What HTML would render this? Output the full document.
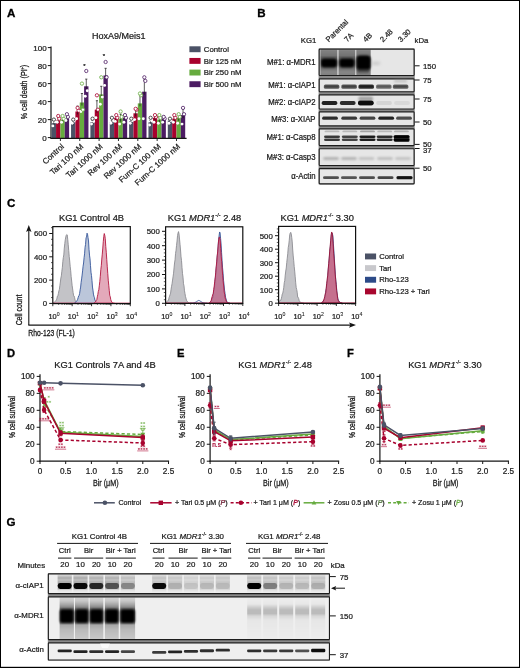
<!DOCTYPE html><html><head><meta charset="utf-8"><style>html,body{margin:0;padding:0;background:#fff;}svg{display:block;font-family:"Liberation Sans", sans-serif;will-change:transform;}</style></head><body>
<svg width="520" height="668" viewBox="0 0 520 668">
<defs>
<filter id="b06" x="-50%" y="-50%" width="200%" height="200%"><feGaussianBlur stdDeviation="0.60"/></filter>
<filter id="b08" x="-50%" y="-50%" width="200%" height="200%"><feGaussianBlur stdDeviation="0.80"/></filter>
<filter id="b1" x="-50%" y="-50%" width="200%" height="200%"><feGaussianBlur stdDeviation="1.00"/></filter>
<filter id="b15" x="-50%" y="-50%" width="200%" height="200%"><feGaussianBlur stdDeviation="1.50"/></filter>
<filter id="b2" x="-50%" y="-50%" width="200%" height="200%"><feGaussianBlur stdDeviation="2.00"/></filter>
<filter id="b3" x="-50%" y="-50%" width="200%" height="200%"><feGaussianBlur stdDeviation="3.00"/></filter>
<filter id="bh" x="-50%" y="-50%" width="200%" height="200%"><feGaussianBlur stdDeviation="0.7 0.4"/></filter>
<linearGradient id="gMDR" x1="0" y1="0" x2="0" y2="1"><stop offset="0" stop-color="#6a6a6a"/><stop offset="0.3" stop-color="#3a3a3a"/><stop offset="0.7" stop-color="#555"/><stop offset="1" stop-color="#8a8a8a"/></linearGradient>
<clipPath id="cB0"><rect x="319.8" y="49.70" width="93.7" height="25.20"/></clipPath>
<clipPath id="cB1"><rect x="319.8" y="79.40" width="93.7" height="11.70"/></clipPath>
<clipPath id="cB2"><rect x="319.8" y="95.40" width="93.7" height="13.00"/></clipPath>
<clipPath id="cB3"><rect x="319.8" y="112.40" width="93.7" height="12.90"/></clipPath>
<clipPath id="cB4"><rect x="319.8" y="129.40" width="93.7" height="15.60"/></clipPath>
<clipPath id="cB5"><rect x="319.8" y="149.30" width="93.7" height="15.60"/></clipPath>
<clipPath id="cB6"><rect x="319.8" y="169.20" width="93.7" height="14.00"/></clipPath>
</defs>
<rect x="0.00" y="0.00" width="520.00" height="668.00" fill="#fff" stroke="none" stroke-width="1.00" />
<text x="7.10" y="16.60" font-size="11.60" text-anchor="start" fill="#000" font-weight="bold" stroke="#000" stroke-width="0.3">A</text>
<text x="118.70" y="39.30" font-size="9.00" text-anchor="middle" fill="#1a1a1a" stroke="#1a1a1a" stroke-width="0.22">HoxA9/Meis1</text>
<line x1="51.00" y1="46.60" x2="51.00" y2="138.60" stroke="#151515" stroke-width="1.20" />
<line x1="47.80" y1="137.60" x2="51.00" y2="137.60" stroke="#151515" stroke-width="1.00" />
<text x="46.60" y="140.50" font-size="8.00" text-anchor="end" fill="#1a1a1a" stroke="#1a1a1a" stroke-width="0.22">0</text>
<line x1="47.80" y1="119.60" x2="51.00" y2="119.60" stroke="#151515" stroke-width="1.00" />
<text x="46.60" y="122.50" font-size="8.00" text-anchor="end" fill="#1a1a1a" stroke="#1a1a1a" stroke-width="0.22">20</text>
<line x1="47.80" y1="101.60" x2="51.00" y2="101.60" stroke="#151515" stroke-width="1.00" />
<text x="46.60" y="104.50" font-size="8.00" text-anchor="end" fill="#1a1a1a" stroke="#1a1a1a" stroke-width="0.22">40</text>
<line x1="47.80" y1="83.60" x2="51.00" y2="83.60" stroke="#151515" stroke-width="1.00" />
<text x="46.60" y="86.50" font-size="8.00" text-anchor="end" fill="#1a1a1a" stroke="#1a1a1a" stroke-width="0.22">60</text>
<line x1="47.80" y1="65.60" x2="51.00" y2="65.60" stroke="#151515" stroke-width="1.00" />
<text x="46.60" y="68.50" font-size="8.00" text-anchor="end" fill="#1a1a1a" stroke="#1a1a1a" stroke-width="0.22">80</text>
<line x1="47.80" y1="47.60" x2="51.00" y2="47.60" stroke="#151515" stroke-width="1.00" />
<text x="46.60" y="50.50" font-size="8.00" text-anchor="end" fill="#1a1a1a" stroke="#1a1a1a" stroke-width="0.22">100</text>
<text x="0.00" y="0.00" font-size="9.40" text-anchor="middle" fill="#1a1a1a" stroke="#1a1a1a" stroke-width="0.29" transform="translate(26.60 92.00) rotate(-90.00) scale(0.760 1)">% cell death (PI<tspan font-size="5" dy="-3">+</tspan><tspan dy="3">)</tspan></text>
<rect x="51.70" y="123.20" width="4.35" height="14.80" fill="#4b5266" stroke="none" stroke-width="1.00" />
<rect x="56.05" y="120.50" width="4.35" height="17.50" fill="#a8022e" stroke="none" stroke-width="1.00" />
<rect x="60.40" y="119.60" width="4.35" height="18.40" fill="#66ab3e" stroke="none" stroke-width="1.00" />
<rect x="64.75" y="118.70" width="4.35" height="19.30" fill="#4c1c63" stroke="none" stroke-width="1.00" />
<line x1="53.88" y1="120.50" x2="53.88" y2="126.20" stroke="#151515" stroke-width="0.70" />
<line x1="52.77" y1="120.50" x2="54.98" y2="120.50" stroke="#151515" stroke-width="0.70" />
<line x1="58.23" y1="116.90" x2="58.23" y2="123.50" stroke="#151515" stroke-width="0.70" />
<line x1="57.12" y1="116.90" x2="59.33" y2="116.90" stroke="#151515" stroke-width="0.70" />
<line x1="62.58" y1="116.90" x2="62.58" y2="122.60" stroke="#151515" stroke-width="0.70" />
<line x1="61.48" y1="116.90" x2="63.68" y2="116.90" stroke="#151515" stroke-width="0.70" />
<line x1="66.92" y1="116.00" x2="66.92" y2="121.70" stroke="#151515" stroke-width="0.70" />
<line x1="65.83" y1="116.00" x2="68.02" y2="116.00" stroke="#151515" stroke-width="0.70" />
<circle cx="52.88" cy="125.90" r="1.45" fill="#fff" stroke="none" stroke-width="1.00" />
<circle cx="54.88" cy="121.40" r="1.45" fill="#fff" stroke="none" stroke-width="1.00" />
<circle cx="53.88" cy="119.60" r="1.65" fill="#fff" stroke="#222" stroke-width="0.80" />
<circle cx="57.23" cy="122.30" r="1.45" fill="#fff" stroke="none" stroke-width="1.00" />
<circle cx="59.23" cy="118.70" r="1.65" fill="#fff" stroke="#a8022e" stroke-width="0.80" />
<circle cx="58.23" cy="116.00" r="1.65" fill="#fff" stroke="#a8022e" stroke-width="0.80" />
<circle cx="61.58" cy="122.30" r="1.45" fill="#fff" stroke="none" stroke-width="1.00" />
<circle cx="63.58" cy="118.70" r="1.65" fill="#fff" stroke="#66ab3e" stroke-width="0.80" />
<circle cx="62.58" cy="116.00" r="1.65" fill="#fff" stroke="#66ab3e" stroke-width="0.80" />
<circle cx="65.92" cy="120.50" r="1.45" fill="#fff" stroke="none" stroke-width="1.00" />
<circle cx="67.92" cy="116.90" r="1.65" fill="#fff" stroke="#4c1c63" stroke-width="0.80" />
<circle cx="66.92" cy="114.20" r="1.65" fill="#fff" stroke="#4c1c63" stroke-width="0.80" />
<rect x="71.05" y="122.30" width="4.35" height="15.70" fill="#4b5266" stroke="none" stroke-width="1.00" />
<rect x="75.40" y="111.50" width="4.35" height="26.50" fill="#a8022e" stroke="none" stroke-width="1.00" />
<rect x="79.75" y="102.50" width="4.35" height="35.50" fill="#66ab3e" stroke="none" stroke-width="1.00" />
<rect x="84.10" y="86.30" width="4.35" height="51.70" fill="#4c1c63" stroke="none" stroke-width="1.00" />
<line x1="73.23" y1="120.50" x2="73.23" y2="125.30" stroke="#151515" stroke-width="0.70" />
<line x1="72.13" y1="120.50" x2="74.33" y2="120.50" stroke="#151515" stroke-width="0.70" />
<line x1="77.58" y1="106.10" x2="77.58" y2="114.50" stroke="#151515" stroke-width="0.70" />
<line x1="76.48" y1="106.10" x2="78.67" y2="106.10" stroke="#151515" stroke-width="0.70" />
<line x1="81.93" y1="93.50" x2="81.93" y2="105.50" stroke="#151515" stroke-width="0.70" />
<line x1="80.83" y1="93.50" x2="83.03" y2="93.50" stroke="#151515" stroke-width="0.70" />
<line x1="86.28" y1="79.10" x2="86.28" y2="89.30" stroke="#151515" stroke-width="0.70" />
<line x1="85.18" y1="79.10" x2="87.38" y2="79.10" stroke="#151515" stroke-width="0.70" />
<circle cx="72.23" cy="123.20" r="1.45" fill="#fff" stroke="none" stroke-width="1.00" />
<circle cx="74.23" cy="120.50" r="1.45" fill="#fff" stroke="none" stroke-width="1.00" />
<circle cx="73.23" cy="119.60" r="1.65" fill="#fff" stroke="#222" stroke-width="0.80" />
<circle cx="76.58" cy="118.70" r="1.45" fill="#fff" stroke="none" stroke-width="1.00" />
<circle cx="78.58" cy="110.60" r="1.65" fill="#fff" stroke="#a8022e" stroke-width="0.80" />
<circle cx="77.58" cy="107.90" r="1.65" fill="#fff" stroke="#a8022e" stroke-width="0.80" />
<circle cx="80.93" cy="111.50" r="1.45" fill="#fff" stroke="none" stroke-width="1.00" />
<circle cx="82.93" cy="109.70" r="1.65" fill="#fff" stroke="#66ab3e" stroke-width="0.80" />
<circle cx="81.93" cy="83.60" r="1.65" fill="#fff" stroke="#66ab3e" stroke-width="0.80" />
<circle cx="85.28" cy="96.20" r="1.45" fill="#fff" stroke="none" stroke-width="1.00" />
<circle cx="87.28" cy="90.80" r="1.45" fill="#fff" stroke="none" stroke-width="1.00" />
<circle cx="86.28" cy="71.00" r="1.65" fill="#fff" stroke="#4c1c63" stroke-width="0.80" />
<rect x="90.40" y="122.30" width="4.35" height="15.70" fill="#4b5266" stroke="none" stroke-width="1.00" />
<rect x="94.75" y="109.70" width="4.35" height="28.30" fill="#a8022e" stroke="none" stroke-width="1.00" />
<rect x="99.10" y="94.40" width="4.35" height="43.60" fill="#66ab3e" stroke="none" stroke-width="1.00" />
<rect x="103.45" y="75.50" width="4.35" height="62.50" fill="#4c1c63" stroke="none" stroke-width="1.00" />
<line x1="92.58" y1="120.50" x2="92.58" y2="125.30" stroke="#151515" stroke-width="0.70" />
<line x1="91.48" y1="120.50" x2="93.67" y2="120.50" stroke="#151515" stroke-width="0.70" />
<line x1="96.92" y1="100.70" x2="96.92" y2="112.70" stroke="#151515" stroke-width="0.70" />
<line x1="95.83" y1="100.70" x2="98.02" y2="100.70" stroke="#151515" stroke-width="0.70" />
<line x1="101.28" y1="86.30" x2="101.28" y2="97.40" stroke="#151515" stroke-width="0.70" />
<line x1="100.18" y1="86.30" x2="102.38" y2="86.30" stroke="#151515" stroke-width="0.70" />
<line x1="105.62" y1="68.30" x2="105.62" y2="78.50" stroke="#151515" stroke-width="0.70" />
<line x1="104.53" y1="68.30" x2="106.72" y2="68.30" stroke="#151515" stroke-width="0.70" />
<circle cx="91.58" cy="124.10" r="1.45" fill="#fff" stroke="none" stroke-width="1.00" />
<circle cx="93.58" cy="121.40" r="1.45" fill="#fff" stroke="none" stroke-width="1.00" />
<circle cx="92.58" cy="118.70" r="1.65" fill="#fff" stroke="#222" stroke-width="0.80" />
<circle cx="95.92" cy="117.80" r="1.45" fill="#fff" stroke="none" stroke-width="1.00" />
<circle cx="97.92" cy="109.70" r="1.65" fill="#fff" stroke="#a8022e" stroke-width="0.80" />
<circle cx="96.92" cy="95.30" r="1.65" fill="#fff" stroke="#a8022e" stroke-width="0.80" />
<circle cx="100.28" cy="104.30" r="1.45" fill="#fff" stroke="none" stroke-width="1.00" />
<circle cx="102.28" cy="97.10" r="1.45" fill="#fff" stroke="none" stroke-width="1.00" />
<circle cx="101.28" cy="77.30" r="1.65" fill="#fff" stroke="#66ab3e" stroke-width="0.80" />
<circle cx="104.62" cy="85.40" r="1.45" fill="#fff" stroke="none" stroke-width="1.00" />
<circle cx="106.62" cy="77.30" r="1.65" fill="#fff" stroke="#4c1c63" stroke-width="0.80" />
<circle cx="105.62" cy="62.00" r="1.65" fill="#fff" stroke="#4c1c63" stroke-width="0.80" />
<rect x="109.75" y="122.30" width="4.35" height="15.70" fill="#4b5266" stroke="none" stroke-width="1.00" />
<rect x="114.10" y="117.80" width="4.35" height="20.20" fill="#a8022e" stroke="none" stroke-width="1.00" />
<rect x="118.45" y="118.70" width="4.35" height="19.30" fill="#66ab3e" stroke="none" stroke-width="1.00" />
<rect x="122.80" y="117.80" width="4.35" height="20.20" fill="#4c1c63" stroke="none" stroke-width="1.00" />
<line x1="111.92" y1="120.50" x2="111.92" y2="125.30" stroke="#151515" stroke-width="0.70" />
<line x1="110.83" y1="120.50" x2="113.02" y2="120.50" stroke="#151515" stroke-width="0.70" />
<line x1="116.27" y1="115.10" x2="116.27" y2="120.80" stroke="#151515" stroke-width="0.70" />
<line x1="115.17" y1="115.10" x2="117.37" y2="115.10" stroke="#151515" stroke-width="0.70" />
<line x1="120.62" y1="114.20" x2="120.62" y2="121.70" stroke="#151515" stroke-width="0.70" />
<line x1="119.53" y1="114.20" x2="121.72" y2="114.20" stroke="#151515" stroke-width="0.70" />
<line x1="124.97" y1="114.20" x2="124.97" y2="120.80" stroke="#151515" stroke-width="0.70" />
<line x1="123.88" y1="114.20" x2="126.07" y2="114.20" stroke="#151515" stroke-width="0.70" />
<circle cx="110.92" cy="123.20" r="1.45" fill="#fff" stroke="none" stroke-width="1.00" />
<circle cx="112.92" cy="119.60" r="1.45" fill="#fff" stroke="none" stroke-width="1.00" />
<circle cx="111.92" cy="117.80" r="1.65" fill="#fff" stroke="#222" stroke-width="0.80" />
<circle cx="115.27" cy="121.40" r="1.45" fill="#fff" stroke="none" stroke-width="1.00" />
<circle cx="117.27" cy="117.80" r="1.65" fill="#fff" stroke="#a8022e" stroke-width="0.80" />
<circle cx="116.27" cy="115.10" r="1.65" fill="#fff" stroke="#a8022e" stroke-width="0.80" />
<circle cx="119.62" cy="124.10" r="1.45" fill="#fff" stroke="none" stroke-width="1.00" />
<circle cx="121.62" cy="116.90" r="1.65" fill="#fff" stroke="#66ab3e" stroke-width="0.80" />
<circle cx="120.62" cy="111.50" r="1.65" fill="#fff" stroke="#66ab3e" stroke-width="0.80" />
<circle cx="123.97" cy="122.30" r="1.45" fill="#fff" stroke="none" stroke-width="1.00" />
<circle cx="125.97" cy="117.80" r="1.65" fill="#fff" stroke="#4c1c63" stroke-width="0.80" />
<circle cx="124.97" cy="115.10" r="1.65" fill="#fff" stroke="#4c1c63" stroke-width="0.80" />
<rect x="129.10" y="121.40" width="4.35" height="16.60" fill="#4b5266" stroke="none" stroke-width="1.00" />
<rect x="133.45" y="113.30" width="4.35" height="24.70" fill="#a8022e" stroke="none" stroke-width="1.00" />
<rect x="137.80" y="103.40" width="4.35" height="34.60" fill="#66ab3e" stroke="none" stroke-width="1.00" />
<rect x="142.15" y="91.70" width="4.35" height="46.30" fill="#4c1c63" stroke="none" stroke-width="1.00" />
<line x1="131.28" y1="119.60" x2="131.28" y2="124.40" stroke="#151515" stroke-width="0.70" />
<line x1="130.18" y1="119.60" x2="132.38" y2="119.60" stroke="#151515" stroke-width="0.70" />
<line x1="135.63" y1="108.80" x2="135.63" y2="116.30" stroke="#151515" stroke-width="0.70" />
<line x1="134.53" y1="108.80" x2="136.73" y2="108.80" stroke="#151515" stroke-width="0.70" />
<line x1="139.98" y1="94.40" x2="139.98" y2="106.40" stroke="#151515" stroke-width="0.70" />
<line x1="138.88" y1="94.40" x2="141.08" y2="94.40" stroke="#151515" stroke-width="0.70" />
<line x1="144.33" y1="80.00" x2="144.33" y2="94.70" stroke="#151515" stroke-width="0.70" />
<line x1="143.23" y1="80.00" x2="145.43" y2="80.00" stroke="#151515" stroke-width="0.70" />
<circle cx="130.28" cy="123.20" r="1.45" fill="#fff" stroke="none" stroke-width="1.00" />
<circle cx="132.28" cy="120.50" r="1.45" fill="#fff" stroke="none" stroke-width="1.00" />
<circle cx="131.28" cy="118.70" r="1.65" fill="#fff" stroke="#222" stroke-width="0.80" />
<circle cx="134.63" cy="119.60" r="1.45" fill="#fff" stroke="none" stroke-width="1.00" />
<circle cx="136.63" cy="109.70" r="1.65" fill="#fff" stroke="#a8022e" stroke-width="0.80" />
<circle cx="135.63" cy="108.80" r="1.65" fill="#fff" stroke="#a8022e" stroke-width="0.80" />
<circle cx="138.98" cy="118.70" r="1.45" fill="#fff" stroke="none" stroke-width="1.00" />
<circle cx="140.98" cy="95.30" r="1.65" fill="#fff" stroke="#66ab3e" stroke-width="0.80" />
<circle cx="139.98" cy="93.50" r="1.65" fill="#fff" stroke="#66ab3e" stroke-width="0.80" />
<circle cx="143.33" cy="118.70" r="1.45" fill="#fff" stroke="none" stroke-width="1.00" />
<circle cx="145.33" cy="80.90" r="1.65" fill="#fff" stroke="#4c1c63" stroke-width="0.80" />
<circle cx="144.33" cy="77.30" r="1.65" fill="#fff" stroke="#4c1c63" stroke-width="0.80" />
<rect x="148.45" y="122.30" width="4.35" height="15.70" fill="#4b5266" stroke="none" stroke-width="1.00" />
<rect x="152.80" y="117.80" width="4.35" height="20.20" fill="#a8022e" stroke="none" stroke-width="1.00" />
<rect x="157.15" y="119.60" width="4.35" height="18.40" fill="#66ab3e" stroke="none" stroke-width="1.00" />
<rect x="161.50" y="118.70" width="4.35" height="19.30" fill="#4c1c63" stroke="none" stroke-width="1.00" />
<line x1="150.62" y1="120.50" x2="150.62" y2="125.30" stroke="#151515" stroke-width="0.70" />
<line x1="149.53" y1="120.50" x2="151.72" y2="120.50" stroke="#151515" stroke-width="0.70" />
<line x1="154.97" y1="115.10" x2="154.97" y2="120.80" stroke="#151515" stroke-width="0.70" />
<line x1="153.88" y1="115.10" x2="156.07" y2="115.10" stroke="#151515" stroke-width="0.70" />
<line x1="159.32" y1="116.90" x2="159.32" y2="122.60" stroke="#151515" stroke-width="0.70" />
<line x1="158.22" y1="116.90" x2="160.42" y2="116.90" stroke="#151515" stroke-width="0.70" />
<line x1="163.68" y1="116.00" x2="163.68" y2="121.70" stroke="#151515" stroke-width="0.70" />
<line x1="162.58" y1="116.00" x2="164.78" y2="116.00" stroke="#151515" stroke-width="0.70" />
<circle cx="149.62" cy="125.00" r="1.45" fill="#fff" stroke="none" stroke-width="1.00" />
<circle cx="151.62" cy="120.50" r="1.45" fill="#fff" stroke="none" stroke-width="1.00" />
<circle cx="150.62" cy="117.80" r="1.65" fill="#fff" stroke="#222" stroke-width="0.80" />
<circle cx="153.97" cy="122.30" r="1.45" fill="#fff" stroke="none" stroke-width="1.00" />
<circle cx="155.97" cy="116.90" r="1.65" fill="#fff" stroke="#a8022e" stroke-width="0.80" />
<circle cx="154.97" cy="115.10" r="1.65" fill="#fff" stroke="#a8022e" stroke-width="0.80" />
<circle cx="158.32" cy="123.20" r="1.45" fill="#fff" stroke="none" stroke-width="1.00" />
<circle cx="160.32" cy="117.80" r="1.65" fill="#fff" stroke="#66ab3e" stroke-width="0.80" />
<circle cx="159.32" cy="115.10" r="1.65" fill="#fff" stroke="#66ab3e" stroke-width="0.80" />
<circle cx="162.68" cy="122.30" r="1.45" fill="#fff" stroke="none" stroke-width="1.00" />
<circle cx="164.68" cy="118.70" r="1.65" fill="#fff" stroke="#4c1c63" stroke-width="0.80" />
<circle cx="163.68" cy="116.90" r="1.65" fill="#fff" stroke="#4c1c63" stroke-width="0.80" />
<rect x="167.80" y="120.50" width="4.35" height="17.50" fill="#4b5266" stroke="none" stroke-width="1.00" />
<rect x="172.15" y="118.70" width="4.35" height="19.30" fill="#a8022e" stroke="none" stroke-width="1.00" />
<rect x="176.50" y="117.80" width="4.35" height="20.20" fill="#66ab3e" stroke="none" stroke-width="1.00" />
<rect x="180.85" y="115.10" width="4.35" height="22.90" fill="#4c1c63" stroke="none" stroke-width="1.00" />
<line x1="169.98" y1="118.70" x2="169.98" y2="123.50" stroke="#151515" stroke-width="0.70" />
<line x1="168.88" y1="118.70" x2="171.08" y2="118.70" stroke="#151515" stroke-width="0.70" />
<line x1="174.33" y1="116.00" x2="174.33" y2="121.70" stroke="#151515" stroke-width="0.70" />
<line x1="173.23" y1="116.00" x2="175.43" y2="116.00" stroke="#151515" stroke-width="0.70" />
<line x1="178.68" y1="114.20" x2="178.68" y2="120.80" stroke="#151515" stroke-width="0.70" />
<line x1="177.58" y1="114.20" x2="179.78" y2="114.20" stroke="#151515" stroke-width="0.70" />
<line x1="183.03" y1="108.80" x2="183.03" y2="118.10" stroke="#151515" stroke-width="0.70" />
<line x1="181.93" y1="108.80" x2="184.13" y2="108.80" stroke="#151515" stroke-width="0.70" />
<circle cx="168.98" cy="123.20" r="1.45" fill="#fff" stroke="none" stroke-width="1.00" />
<circle cx="170.98" cy="120.50" r="1.45" fill="#fff" stroke="none" stroke-width="1.00" />
<circle cx="169.98" cy="118.70" r="1.65" fill="#fff" stroke="#222" stroke-width="0.80" />
<circle cx="173.33" cy="122.30" r="1.45" fill="#fff" stroke="none" stroke-width="1.00" />
<circle cx="175.33" cy="117.80" r="1.65" fill="#fff" stroke="#a8022e" stroke-width="0.80" />
<circle cx="174.33" cy="115.10" r="1.65" fill="#fff" stroke="#a8022e" stroke-width="0.80" />
<circle cx="177.68" cy="123.20" r="1.45" fill="#fff" stroke="none" stroke-width="1.00" />
<circle cx="179.68" cy="116.90" r="1.65" fill="#fff" stroke="#66ab3e" stroke-width="0.80" />
<circle cx="178.68" cy="114.20" r="1.65" fill="#fff" stroke="#66ab3e" stroke-width="0.80" />
<circle cx="182.03" cy="124.10" r="1.45" fill="#fff" stroke="none" stroke-width="1.00" />
<circle cx="184.03" cy="114.20" r="1.65" fill="#fff" stroke="#4c1c63" stroke-width="0.80" />
<circle cx="183.03" cy="107.90" r="1.65" fill="#fff" stroke="#4c1c63" stroke-width="0.80" />
<text x="84.40" y="67.60" font-size="6.00" text-anchor="middle" fill="#151515" stroke="#151515" stroke-width="0.22">*</text>
<text x="103.80" y="57.70" font-size="6.00" text-anchor="middle" fill="#151515" stroke="#151515" stroke-width="0.22">*</text>
<line x1="50.40" y1="138.30" x2="186.60" y2="138.30" stroke="#151515" stroke-width="1.20" />
<line x1="60.40" y1="138.30" x2="60.40" y2="141.00" stroke="#151515" stroke-width="0.90" />
<text x="0.00" y="0.00" font-size="8.00" text-anchor="end" fill="#1a1a1a" stroke="#1a1a1a" stroke-width="0.22" transform="translate(64.60 147.40) rotate(-42.00)">Control</text>
<line x1="79.75" y1="138.30" x2="79.75" y2="141.00" stroke="#151515" stroke-width="0.90" />
<text x="0.00" y="0.00" font-size="8.00" text-anchor="end" fill="#1a1a1a" stroke="#1a1a1a" stroke-width="0.22" transform="translate(83.95 147.40) rotate(-42.00)">Tari 100 nM</text>
<line x1="99.10" y1="138.30" x2="99.10" y2="141.00" stroke="#151515" stroke-width="0.90" />
<text x="0.00" y="0.00" font-size="8.00" text-anchor="end" fill="#1a1a1a" stroke="#1a1a1a" stroke-width="0.22" transform="translate(103.30 147.40) rotate(-42.00)">Tari 1000 nM</text>
<line x1="118.45" y1="138.30" x2="118.45" y2="141.00" stroke="#151515" stroke-width="0.90" />
<text x="0.00" y="0.00" font-size="8.00" text-anchor="end" fill="#1a1a1a" stroke="#1a1a1a" stroke-width="0.22" transform="translate(122.65 147.40) rotate(-42.00)">Rev 100 nM</text>
<line x1="137.80" y1="138.30" x2="137.80" y2="141.00" stroke="#151515" stroke-width="0.90" />
<text x="0.00" y="0.00" font-size="8.00" text-anchor="end" fill="#1a1a1a" stroke="#1a1a1a" stroke-width="0.22" transform="translate(142.00 147.40) rotate(-42.00)">Rev 1000 nM</text>
<line x1="157.15" y1="138.30" x2="157.15" y2="141.00" stroke="#151515" stroke-width="0.90" />
<text x="0.00" y="0.00" font-size="8.00" text-anchor="end" fill="#1a1a1a" stroke="#1a1a1a" stroke-width="0.22" transform="translate(161.35 147.40) rotate(-42.00)">Fum-C 100 nM</text>
<line x1="176.50" y1="138.30" x2="176.50" y2="141.00" stroke="#151515" stroke-width="0.90" />
<text x="0.00" y="0.00" font-size="8.00" text-anchor="end" fill="#1a1a1a" stroke="#1a1a1a" stroke-width="0.22" transform="translate(180.70 147.40) rotate(-42.00)">Fum-C 1000 nM</text>
<rect x="189.40" y="46.30" width="11.20" height="5.90" fill="#4b5266" stroke="none" stroke-width="1.00" />
<text x="203.80" y="51.90" font-size="7.80" text-anchor="start" fill="#1a1a1a" stroke="#1a1a1a" stroke-width="0.22">Control</text>
<rect x="189.40" y="57.95" width="11.20" height="5.90" fill="#a8022e" stroke="none" stroke-width="1.00" />
<text x="203.80" y="63.55" font-size="7.80" text-anchor="start" fill="#1a1a1a" stroke="#1a1a1a" stroke-width="0.22">Bir 125 nM</text>
<rect x="189.40" y="69.60" width="11.20" height="5.90" fill="#66ab3e" stroke="none" stroke-width="1.00" />
<text x="203.80" y="75.20" font-size="7.80" text-anchor="start" fill="#1a1a1a" stroke="#1a1a1a" stroke-width="0.22">Bir 250 nM</text>
<rect x="189.40" y="81.25" width="11.20" height="5.90" fill="#4c1c63" stroke="none" stroke-width="1.00" />
<text x="203.80" y="86.85" font-size="7.80" text-anchor="start" fill="#1a1a1a" stroke="#1a1a1a" stroke-width="0.22">Bir 500 nM</text>
<text x="257.30" y="16.90" font-size="11.60" text-anchor="start" fill="#000" font-weight="bold" stroke="#000" stroke-width="0.3">B</text>
<text x="316.30" y="43.30" font-size="7.80" text-anchor="end" fill="#1a1a1a" stroke="#1a1a1a" stroke-width="0.22">KG1</text>
<text x="0.00" y="0.00" font-size="7.60" text-anchor="start" fill="#1a1a1a" stroke="#1a1a1a" stroke-width="0.22" transform="translate(328.80 42.60) rotate(-45.00)">Parental</text>
<text x="0.00" y="0.00" font-size="7.60" text-anchor="start" fill="#1a1a1a" stroke="#1a1a1a" stroke-width="0.22" transform="translate(347.20 42.60) rotate(-45.00)">7A</text>
<text x="0.00" y="0.00" font-size="7.60" text-anchor="start" fill="#1a1a1a" stroke="#1a1a1a" stroke-width="0.22" transform="translate(365.90 42.60) rotate(-45.00)">4B</text>
<text x="0.00" y="0.00" font-size="7.60" text-anchor="start" fill="#1a1a1a" stroke="#1a1a1a" stroke-width="0.22" transform="translate(382.90 42.60) rotate(-45.00)">2.48</text>
<text x="0.00" y="0.00" font-size="7.60" text-anchor="start" fill="#1a1a1a" stroke="#1a1a1a" stroke-width="0.22" transform="translate(400.90 42.60) rotate(-45.00)">3.30</text>
<text x="414.60" y="43.10" font-size="7.80" text-anchor="start" fill="#1a1a1a" stroke="#1a1a1a" stroke-width="0.22">kDa</text>
<rect x="318.60" y="48.50" width="96.10" height="135.90" fill="#8a8a8a" stroke="none" stroke-width="1.00" />
<rect x="319.20" y="49.10" width="94.90" height="26.40" fill="#e6e6e6" stroke="#1c1c1c" stroke-width="1.15" rx="0.8"/>
<rect x="319.20" y="78.80" width="94.90" height="12.90" fill="#e6e6e6" stroke="#1c1c1c" stroke-width="1.15" rx="0.8"/>
<rect x="319.20" y="94.80" width="94.90" height="14.20" fill="#e6e6e6" stroke="#1c1c1c" stroke-width="1.15" rx="0.8"/>
<rect x="319.20" y="111.80" width="94.90" height="14.10" fill="#e6e6e6" stroke="#1c1c1c" stroke-width="1.15" rx="0.8"/>
<rect x="319.20" y="128.80" width="94.90" height="16.80" fill="#e6e6e6" stroke="#1c1c1c" stroke-width="1.15" rx="0.8"/>
<rect x="319.20" y="148.70" width="94.90" height="16.80" fill="#e6e6e6" stroke="#1c1c1c" stroke-width="1.15" rx="0.8"/>
<rect x="319.20" y="168.60" width="94.90" height="15.20" fill="#e6e6e6" stroke="#1c1c1c" stroke-width="1.15" rx="0.8"/>
<g clip-path="url(#cB0)">
<linearGradient id="sg1" gradientUnits="userSpaceOnUse" x1="0" y1="48.50" x2="0" y2="76.10"><stop offset="0.0000" stop-color="#000" stop-opacity="0.380"/><stop offset="0.1087" stop-color="#000" stop-opacity="0.450"/><stop offset="0.2536" stop-color="#000" stop-opacity="0.500"/><stop offset="0.3080" stop-color="#000" stop-opacity="0.580"/><stop offset="0.4891" stop-color="#000" stop-opacity="0.600"/><stop offset="0.7246" stop-color="#000" stop-opacity="0.500"/><stop offset="0.8514" stop-color="#000" stop-opacity="0.420"/><stop offset="1.0000" stop-color="#000" stop-opacity="0.450"/></linearGradient>
<rect x="319.20" y="46.50" width="18.20" height="31.60" fill="url(#sg1)" filter="url(#bh)"/>
<linearGradient id="sg2" gradientUnits="userSpaceOnUse" x1="0" y1="48.50" x2="0" y2="76.10"><stop offset="0.0000" stop-color="#000" stop-opacity="0.380"/><stop offset="0.1087" stop-color="#000" stop-opacity="0.450"/><stop offset="0.2536" stop-color="#000" stop-opacity="0.500"/><stop offset="0.3080" stop-color="#000" stop-opacity="0.580"/><stop offset="0.4891" stop-color="#000" stop-opacity="0.600"/><stop offset="0.7246" stop-color="#000" stop-opacity="0.500"/><stop offset="0.8514" stop-color="#000" stop-opacity="0.420"/><stop offset="1.0000" stop-color="#000" stop-opacity="0.450"/></linearGradient>
<rect x="338.50" y="46.50" width="16.80" height="31.60" fill="url(#sg2)" filter="url(#bh)"/>
<linearGradient id="sg3" gradientUnits="userSpaceOnUse" x1="0" y1="48.50" x2="0" y2="76.10"><stop offset="0.0000" stop-color="#000" stop-opacity="0.380"/><stop offset="0.1087" stop-color="#000" stop-opacity="0.450"/><stop offset="0.2536" stop-color="#000" stop-opacity="0.500"/><stop offset="0.3080" stop-color="#000" stop-opacity="0.580"/><stop offset="0.4891" stop-color="#000" stop-opacity="0.600"/><stop offset="0.7246" stop-color="#000" stop-opacity="0.500"/><stop offset="0.8514" stop-color="#000" stop-opacity="0.420"/><stop offset="1.0000" stop-color="#000" stop-opacity="0.450"/></linearGradient>
<rect x="356.30" y="46.50" width="14.40" height="31.60" fill="url(#sg3)" filter="url(#bh)"/>
<rect x="321.00" y="58.40" width="16.00" height="9.20" rx="3.00" fill="#000" opacity="1.00" filter="url(#b1)"/>
<rect x="339.40" y="58.40" width="15.00" height="9.20" rx="3.00" fill="#000" opacity="1.00" filter="url(#b1)"/>
<rect x="356.40" y="55.40" width="14.20" height="14.60" rx="4.00" fill="#000" opacity="1.00" filter="url(#b1)"/>
<rect x="357.00" y="68.00" width="12.50" height="5.00" rx="2.00" fill="#222" opacity="0.50" filter="url(#b1)"/>
<rect x="319.00" y="48.50" width="2.00" height="27.60" fill="#fff" stroke="none" stroke-width="0.00" opacity="0.3" filter="url(#b06)"/>
<ellipse cx="376.00" cy="63.20" rx="4.50" ry="1.75" fill="#999" opacity="0.35" filter="url(#b15)"/>
</g>
<rect x="323.85" y="84.40" width="15.50" height="4.40" rx="1.60" fill="#222" opacity="0.72" filter="url(#b06)"/>
<rect x="341.35" y="84.40" width="15.50" height="4.40" rx="1.60" fill="#222" opacity="0.72" filter="url(#b06)"/>
<rect x="358.45" y="84.40" width="15.50" height="4.40" rx="1.60" fill="#222" opacity="0.92" filter="url(#b06)"/>
<rect x="376.05" y="84.40" width="15.50" height="4.40" rx="1.60" fill="#222" opacity="0.60" filter="url(#b06)"/>
<rect x="392.85" y="84.40" width="15.50" height="4.40" rx="1.60" fill="#222" opacity="0.68" filter="url(#b06)"/>
<rect x="324.60" y="85.60" width="14.00" height="2.00" rx="1.60" fill="#000" opacity="0.25" filter="url(#b06)"/>
<rect x="342.10" y="85.60" width="14.00" height="2.00" rx="1.60" fill="#000" opacity="0.25" filter="url(#b06)"/>
<rect x="359.20" y="85.60" width="14.00" height="2.00" rx="1.60" fill="#000" opacity="0.40" filter="url(#b06)"/>
<rect x="376.80" y="85.60" width="14.00" height="2.00" rx="1.60" fill="#000" opacity="0.20" filter="url(#b06)"/>
<rect x="393.60" y="85.60" width="14.00" height="2.00" rx="1.60" fill="#000" opacity="0.25" filter="url(#b06)"/>
<rect x="394.00" y="79.50" width="13.00" height="3.00" rx="1.00" fill="#888" opacity="0.35" filter="url(#b1)"/>
<rect x="321.70" y="101.10" width="15.60" height="3.80" rx="1.60" fill="#111" opacity="0.90" filter="url(#b06)"/>
<rect x="339.90" y="101.10" width="15.60" height="3.80" rx="1.60" fill="#111" opacity="0.85" filter="url(#b06)"/>
<rect x="358.00" y="101.10" width="15.60" height="3.80" rx="1.60" fill="#111" opacity="1.00" filter="url(#b06)"/>
<rect x="376.20" y="101.10" width="15.60" height="3.80" rx="1.60" fill="#111" opacity="0.08" filter="url(#b06)"/>
<rect x="394.20" y="101.10" width="15.60" height="3.80" rx="1.60" fill="#111" opacity="0.06" filter="url(#b06)"/>
<rect x="358.50" y="96.50" width="14.50" height="4.50" rx="1.50" fill="#555" opacity="0.45" filter="url(#b1)"/>
<rect x="358.20" y="100.60" width="15.20" height="5.00" rx="2.00" fill="#111" opacity="0.90" filter="url(#b06)"/>
<rect x="322.10" y="116.55" width="15.80" height="3.30" rx="1.60" fill="#111" opacity="0.85" filter="url(#b06)"/>
<rect x="341.30" y="116.55" width="15.80" height="3.30" rx="1.60" fill="#111" opacity="0.80" filter="url(#b06)"/>
<rect x="359.60" y="116.55" width="15.80" height="3.30" rx="1.60" fill="#111" opacity="0.75" filter="url(#b06)"/>
<rect x="378.30" y="116.55" width="15.80" height="3.30" rx="1.60" fill="#111" opacity="0.90" filter="url(#b06)"/>
<rect x="396.10" y="116.55" width="15.80" height="3.30" rx="1.60" fill="#111" opacity="0.70" filter="url(#b06)"/>
<rect x="324.50" y="130.50" width="15.00" height="1.80" rx="1.60" fill="#555" opacity="0.30" filter="url(#b06)"/>
<rect x="342.30" y="130.50" width="15.00" height="1.80" rx="1.60" fill="#555" opacity="0.30" filter="url(#b06)"/>
<rect x="360.00" y="130.50" width="15.00" height="1.80" rx="1.60" fill="#555" opacity="0.45" filter="url(#b06)"/>
<rect x="377.20" y="130.50" width="15.00" height="1.80" rx="1.60" fill="#555" opacity="0.30" filter="url(#b06)"/>
<rect x="393.90" y="130.50" width="15.00" height="1.80" rx="1.60" fill="#555" opacity="0.35" filter="url(#b06)"/>
<rect x="324.00" y="135.60" width="16.00" height="2.40" rx="1.60" fill="#111" opacity="0.80" filter="url(#b06)"/>
<rect x="341.80" y="135.60" width="16.00" height="2.40" rx="1.60" fill="#111" opacity="0.75" filter="url(#b06)"/>
<rect x="359.50" y="135.60" width="16.00" height="2.40" rx="1.60" fill="#111" opacity="0.92" filter="url(#b06)"/>
<rect x="376.70" y="135.60" width="16.00" height="2.40" rx="1.60" fill="#111" opacity="0.85" filter="url(#b06)"/>
<rect x="393.40" y="135.60" width="16.00" height="2.40" rx="1.60" fill="#111" opacity="1.00" filter="url(#b06)"/>
<rect x="324.00" y="138.60" width="16.00" height="2.40" rx="1.60" fill="#111" opacity="0.80" filter="url(#b06)"/>
<rect x="341.80" y="138.60" width="16.00" height="2.40" rx="1.60" fill="#111" opacity="0.75" filter="url(#b06)"/>
<rect x="359.50" y="138.60" width="16.00" height="2.40" rx="1.60" fill="#111" opacity="0.92" filter="url(#b06)"/>
<rect x="376.70" y="138.60" width="16.00" height="2.40" rx="1.60" fill="#111" opacity="0.85" filter="url(#b06)"/>
<rect x="393.40" y="138.60" width="16.00" height="2.40" rx="1.60" fill="#111" opacity="1.00" filter="url(#b06)"/>
<rect x="394.00" y="135.00" width="15.50" height="7.00" rx="1.50" fill="#000" opacity="0.75" filter="url(#b06)"/>
<rect x="323.25" y="157.20" width="15.50" height="2.60" rx="1.60" fill="#555" opacity="0.42" filter="url(#b08)"/>
<rect x="341.25" y="157.20" width="15.50" height="2.60" rx="1.60" fill="#555" opacity="0.40" filter="url(#b08)"/>
<rect x="358.75" y="157.20" width="15.50" height="2.60" rx="1.60" fill="#555" opacity="0.28" filter="url(#b08)"/>
<rect x="377.25" y="157.20" width="15.50" height="2.60" rx="1.60" fill="#555" opacity="0.32" filter="url(#b08)"/>
<rect x="395.25" y="157.20" width="15.50" height="2.60" rx="1.60" fill="#555" opacity="0.28" filter="url(#b08)"/>
<rect x="323.00" y="176.30" width="16.00" height="2.80" rx="1.60" fill="#1a1a1a" opacity="0.75" filter="url(#b06)"/>
<rect x="341.00" y="176.30" width="16.00" height="2.80" rx="1.60" fill="#1a1a1a" opacity="0.72" filter="url(#b06)"/>
<rect x="359.00" y="176.30" width="16.00" height="2.80" rx="1.60" fill="#1a1a1a" opacity="0.75" filter="url(#b06)"/>
<rect x="377.50" y="176.30" width="16.00" height="2.80" rx="1.60" fill="#1a1a1a" opacity="0.80" filter="url(#b06)"/>
<rect x="396.50" y="176.30" width="16.00" height="2.80" rx="1.60" fill="#1a1a1a" opacity="0.95" filter="url(#b06)"/>
<rect x="396.50" y="176.00" width="16.00" height="3.40" rx="1.50" fill="#000" opacity="0.50" filter="url(#b06)"/>
<text x="0.00" y="0.00" font-size="8.50" text-anchor="end" fill="#1a1a1a" stroke="#1a1a1a" stroke-width="0.24" transform="translate(315.50 65.10) scale(0.915 1)">M#1: α-MDR1</text>
<text x="0.00" y="0.00" font-size="8.50" text-anchor="end" fill="#1a1a1a" stroke="#1a1a1a" stroke-width="0.24" transform="translate(315.50 88.40) scale(0.915 1)">M#1: α-cIAP1</text>
<text x="0.00" y="0.00" font-size="8.50" text-anchor="end" fill="#1a1a1a" stroke="#1a1a1a" stroke-width="0.24" transform="translate(315.50 105.20) scale(0.915 1)">M#2: α-cIAP2</text>
<text x="0.00" y="0.00" font-size="8.50" text-anchor="end" fill="#1a1a1a" stroke="#1a1a1a" stroke-width="0.24" transform="translate(315.50 122.10) scale(0.915 1)">M#3: α-XIAP</text>
<text x="0.00" y="0.00" font-size="8.50" text-anchor="end" fill="#1a1a1a" stroke="#1a1a1a" stroke-width="0.24" transform="translate(315.50 139.60) scale(0.915 1)">M#1: α-Casp8</text>
<text x="0.00" y="0.00" font-size="8.50" text-anchor="end" fill="#1a1a1a" stroke="#1a1a1a" stroke-width="0.24" transform="translate(315.50 159.50) scale(0.915 1)">M#3: α-Casp3</text>
<text x="0.00" y="0.00" font-size="8.50" text-anchor="end" fill="#1a1a1a" stroke="#1a1a1a" stroke-width="0.24" transform="translate(315.50 179.30) scale(0.915 1)">α-Actin</text>
<line x1="414.70" y1="65.80" x2="419.60" y2="65.80" stroke="#151515" stroke-width="1.00" />
<text x="423.00" y="68.70" font-size="7.80" text-anchor="start" fill="#1a1a1a" stroke="#1a1a1a" stroke-width="0.22">150</text>
<line x1="414.70" y1="80.00" x2="419.60" y2="80.00" stroke="#151515" stroke-width="1.00" />
<text x="423.00" y="82.90" font-size="7.80" text-anchor="start" fill="#1a1a1a" stroke="#1a1a1a" stroke-width="0.22">75</text>
<line x1="414.70" y1="99.00" x2="419.60" y2="99.00" stroke="#151515" stroke-width="1.00" />
<text x="423.00" y="101.90" font-size="7.80" text-anchor="start" fill="#1a1a1a" stroke="#1a1a1a" stroke-width="0.22">75</text>
<line x1="414.70" y1="122.00" x2="419.60" y2="122.00" stroke="#151515" stroke-width="1.00" />
<text x="423.00" y="124.90" font-size="7.80" text-anchor="start" fill="#1a1a1a" stroke="#1a1a1a" stroke-width="0.22">50</text>
<line x1="414.70" y1="144.40" x2="419.60" y2="144.40" stroke="#151515" stroke-width="1.00" />
<text x="423.00" y="146.50" font-size="7.80" text-anchor="start" fill="#1a1a1a" stroke="#1a1a1a" stroke-width="0.22">50</text>
<line x1="414.70" y1="148.50" x2="419.60" y2="148.50" stroke="#151515" stroke-width="1.00" />
<text x="423.00" y="152.80" font-size="7.80" text-anchor="start" fill="#1a1a1a" stroke="#1a1a1a" stroke-width="0.22">37</text>
<line x1="414.70" y1="168.20" x2="419.60" y2="168.20" stroke="#151515" stroke-width="1.00" />
<text x="423.00" y="171.10" font-size="7.80" text-anchor="start" fill="#1a1a1a" stroke="#1a1a1a" stroke-width="0.22">50</text>
<text x="7.00" y="206.80" font-size="11.60" text-anchor="start" fill="#000" font-weight="bold" stroke="#000" stroke-width="0.3">C</text>
<text x="91.50" y="221.30" font-size="9.30" text-anchor="middle" fill="#1a1a1a" stroke="#1a1a1a" stroke-width="0.22">KG1 Control 4B</text>
<text x="204.50" y="220.70" font-size="9.30" text-anchor="middle" fill="#1a1a1a" stroke="#1a1a1a" stroke-width="0.22">KG1 <tspan font-style="italic">MDR1</tspan><tspan font-size="5.6" dy="-3.4">-/-</tspan><tspan dy="3.4"> </tspan>2.48</text>
<text x="317.20" y="220.70" font-size="9.30" text-anchor="middle" fill="#1a1a1a" stroke="#1a1a1a" stroke-width="0.22">KG1 <tspan font-style="italic">MDR1</tspan><tspan font-size="5.6" dy="-3.4">-/-</tspan><tspan dy="3.4"> </tspan>3.30</text>
<g>
<clipPath id="cC0"><rect x="52.80" y="226.60" width="77.50" height="77.00"/></clipPath>
<g clip-path="url(#cC0)">
<path d="M53.49 303.40 L53.49 302.79 L53.98 302.55 L54.47 302.22 L54.96 301.79 L55.45 301.24 L55.95 300.52 L56.44 299.74 L56.93 298.36 L57.42 296.08 L57.91 295.58 L58.40 293.51 L58.89 291.02 L59.38 289.40 L59.87 285.61 L60.37 282.01 L60.86 277.99 L61.35 275.87 L61.84 271.29 L62.33 267.64 L62.82 261.60 L63.31 257.61 L63.80 254.91 L64.29 248.12 L64.79 243.58 L65.28 239.79 L65.77 237.04 L66.26 235.27 L66.75 234.56 L67.24 234.98 L67.73 239.31 L68.22 244.67 L68.71 250.38 L69.21 256.52 L69.70 260.91 L70.19 266.38 L70.68 270.70 L71.17 276.60 L71.66 281.02 L72.15 285.64 L72.64 288.96 L73.13 292.64 L73.63 295.71 L74.12 296.03 L74.61 297.70 L75.10 300.22 L75.59 301.18 L76.08 301.88 L76.57 302.38 L77.06 302.73 L77.55 302.97 L78.05 303.13 L78.54 303.23 L79.03 303.30 L79.52 303.34 L80.01 303.36 L80.01 303.40 Z" fill="#bdbdc1" fill-opacity="0.90" stroke="#8c8c92" stroke-width="0.9" stroke-linejoin="round"/>
<path d="M74.71 303.40 L74.71 302.79 L75.20 302.53 L75.69 302.18 L76.19 301.70 L76.68 301.08 L77.17 300.28 L77.67 299.32 L78.16 297.58 L78.65 295.98 L79.15 295.38 L79.64 293.45 L80.13 289.89 L80.63 287.11 L81.12 282.36 L81.61 278.90 L82.11 275.07 L82.60 270.90 L83.09 266.22 L83.59 263.01 L84.08 257.74 L84.57 253.83 L85.07 247.24 L85.56 244.48 L86.05 237.84 L86.55 237.00 L87.04 233.19 L87.53 234.25 L88.03 237.64 L88.52 240.98 L89.01 249.24 L89.51 255.14 L90.00 258.82 L90.49 265.58 L90.99 272.26 L91.48 275.43 L91.97 280.52 L92.47 287.07 L92.96 290.15 L93.45 294.11 L93.95 296.30 L94.44 297.61 L94.93 300.35 L95.43 300.71 L95.92 301.58 L96.41 302.19 L96.91 302.62 L97.40 302.91 L97.89 303.10 L98.39 303.22 L98.88 303.29 L99.37 303.34 L99.87 303.36 L99.87 303.40 Z" fill="#b4c0d6" fill-opacity="0.90" stroke="#36569a" stroke-width="0.9" stroke-linejoin="round"/>
<path d="M94.33 303.40 L94.33 302.79 L94.83 302.45 L95.33 301.96 L95.82 301.27 L96.32 300.30 L96.82 299.60 L97.32 296.82 L97.81 294.63 L98.31 291.47 L98.81 289.80 L99.31 285.77 L99.80 281.49 L100.30 276.32 L100.80 269.71 L101.30 265.68 L101.79 259.06 L102.29 254.16 L102.79 248.06 L103.29 241.65 L103.78 236.39 L104.28 233.55 L104.78 235.31 L105.28 238.64 L105.78 246.50 L106.27 252.26 L106.77 259.65 L107.27 266.78 L107.77 273.63 L108.26 280.21 L108.76 285.28 L109.26 290.32 L109.76 295.35 L110.25 296.67 L110.75 299.61 L111.25 300.99 L111.75 301.93 L112.24 302.54 L112.74 302.91 L113.24 303.13 L113.74 303.26 L114.23 303.33 L114.73 303.36 L114.73 303.40 Z" fill="#e0a0b2" fill-opacity="0.90" stroke="#b3163e" stroke-width="0.9" stroke-linejoin="round"/>
<line x1="52.80" y1="303.20" x2="130.30" y2="303.20" stroke="#b3163e" stroke-width="1.00" />
</g></g>
<rect x="52.80" y="226.60" width="77.50" height="77.00" fill="none" stroke="#111" stroke-width="1.20" />
<line x1="49.20" y1="303.40" x2="52.80" y2="303.40" stroke="#151515" stroke-width="1.00" />
<text x="47.00" y="306.20" font-size="7.80" text-anchor="end" fill="#1a1a1a" stroke="#1a1a1a" stroke-width="0.22">0</text>
<line x1="49.20" y1="280.10" x2="52.80" y2="280.10" stroke="#151515" stroke-width="1.00" />
<text x="47.00" y="282.90" font-size="7.80" text-anchor="end" fill="#1a1a1a" stroke="#1a1a1a" stroke-width="0.22">200</text>
<line x1="49.20" y1="256.80" x2="52.80" y2="256.80" stroke="#151515" stroke-width="1.00" />
<text x="47.00" y="259.60" font-size="7.80" text-anchor="end" fill="#1a1a1a" stroke="#1a1a1a" stroke-width="0.22">400</text>
<line x1="49.20" y1="233.50" x2="52.80" y2="233.50" stroke="#151515" stroke-width="1.00" />
<text x="47.00" y="236.30" font-size="7.80" text-anchor="end" fill="#1a1a1a" stroke="#1a1a1a" stroke-width="0.22">600</text>
<line x1="51.00" y1="297.57" x2="52.80" y2="297.57" stroke="#151515" stroke-width="0.70" />
<line x1="51.00" y1="291.75" x2="52.80" y2="291.75" stroke="#151515" stroke-width="0.70" />
<line x1="51.00" y1="285.92" x2="52.80" y2="285.92" stroke="#151515" stroke-width="0.70" />
<line x1="51.00" y1="274.27" x2="52.80" y2="274.27" stroke="#151515" stroke-width="0.70" />
<line x1="51.00" y1="268.45" x2="52.80" y2="268.45" stroke="#151515" stroke-width="0.70" />
<line x1="51.00" y1="262.62" x2="52.80" y2="262.62" stroke="#151515" stroke-width="0.70" />
<line x1="51.00" y1="250.97" x2="52.80" y2="250.97" stroke="#151515" stroke-width="0.70" />
<line x1="51.00" y1="245.15" x2="52.80" y2="245.15" stroke="#151515" stroke-width="0.70" />
<line x1="51.00" y1="239.32" x2="52.80" y2="239.32" stroke="#151515" stroke-width="0.70" />
<line x1="51.00" y1="227.67" x2="52.80" y2="227.67" stroke="#151515" stroke-width="0.70" />
<line x1="52.80" y1="303.60" x2="52.80" y2="306.20" stroke="#151515" stroke-width="0.90" />
<text x="48.40" y="319.20" font-size="7.40" text-anchor="start" fill="#1a1a1a" stroke="#1a1a1a" stroke-width="0.22">10<tspan font-size="5.2" dy="-2.9" stroke-width="0.08">0</tspan></text>
<line x1="58.63" y1="303.60" x2="58.63" y2="305.00" stroke="#151515" stroke-width="0.60" />
<line x1="62.04" y1="303.60" x2="62.04" y2="305.00" stroke="#151515" stroke-width="0.60" />
<line x1="64.46" y1="303.60" x2="64.46" y2="305.00" stroke="#151515" stroke-width="0.60" />
<line x1="66.34" y1="303.60" x2="66.34" y2="305.00" stroke="#151515" stroke-width="0.60" />
<line x1="67.88" y1="303.60" x2="67.88" y2="305.00" stroke="#151515" stroke-width="0.60" />
<line x1="69.17" y1="303.60" x2="69.17" y2="305.00" stroke="#151515" stroke-width="0.60" />
<line x1="70.30" y1="303.60" x2="70.30" y2="305.00" stroke="#151515" stroke-width="0.60" />
<line x1="71.29" y1="303.60" x2="71.29" y2="305.00" stroke="#151515" stroke-width="0.60" />
<line x1="72.17" y1="303.60" x2="72.17" y2="306.20" stroke="#151515" stroke-width="0.90" />
<text x="67.77" y="319.20" font-size="7.40" text-anchor="start" fill="#1a1a1a" stroke="#1a1a1a" stroke-width="0.22">10<tspan font-size="5.2" dy="-2.9" stroke-width="0.08">1</tspan></text>
<line x1="78.01" y1="303.60" x2="78.01" y2="305.00" stroke="#151515" stroke-width="0.60" />
<line x1="81.42" y1="303.60" x2="81.42" y2="305.00" stroke="#151515" stroke-width="0.60" />
<line x1="83.84" y1="303.60" x2="83.84" y2="305.00" stroke="#151515" stroke-width="0.60" />
<line x1="85.72" y1="303.60" x2="85.72" y2="305.00" stroke="#151515" stroke-width="0.60" />
<line x1="87.25" y1="303.60" x2="87.25" y2="305.00" stroke="#151515" stroke-width="0.60" />
<line x1="88.55" y1="303.60" x2="88.55" y2="305.00" stroke="#151515" stroke-width="0.60" />
<line x1="89.67" y1="303.60" x2="89.67" y2="305.00" stroke="#151515" stroke-width="0.60" />
<line x1="90.66" y1="303.60" x2="90.66" y2="305.00" stroke="#151515" stroke-width="0.60" />
<line x1="91.55" y1="303.60" x2="91.55" y2="306.20" stroke="#151515" stroke-width="0.90" />
<text x="87.15" y="319.20" font-size="7.40" text-anchor="start" fill="#1a1a1a" stroke="#1a1a1a" stroke-width="0.22">10<tspan font-size="5.2" dy="-2.9" stroke-width="0.08">2</tspan></text>
<line x1="97.38" y1="303.60" x2="97.38" y2="305.00" stroke="#151515" stroke-width="0.60" />
<line x1="100.79" y1="303.60" x2="100.79" y2="305.00" stroke="#151515" stroke-width="0.60" />
<line x1="103.21" y1="303.60" x2="103.21" y2="305.00" stroke="#151515" stroke-width="0.60" />
<line x1="105.09" y1="303.60" x2="105.09" y2="305.00" stroke="#151515" stroke-width="0.60" />
<line x1="106.63" y1="303.60" x2="106.63" y2="305.00" stroke="#151515" stroke-width="0.60" />
<line x1="107.92" y1="303.60" x2="107.92" y2="305.00" stroke="#151515" stroke-width="0.60" />
<line x1="109.05" y1="303.60" x2="109.05" y2="305.00" stroke="#151515" stroke-width="0.60" />
<line x1="110.04" y1="303.60" x2="110.04" y2="305.00" stroke="#151515" stroke-width="0.60" />
<line x1="110.93" y1="303.60" x2="110.93" y2="306.20" stroke="#151515" stroke-width="0.90" />
<text x="106.53" y="319.20" font-size="7.40" text-anchor="start" fill="#1a1a1a" stroke="#1a1a1a" stroke-width="0.22">10<tspan font-size="5.2" dy="-2.9" stroke-width="0.08">3</tspan></text>
<line x1="116.76" y1="303.60" x2="116.76" y2="305.00" stroke="#151515" stroke-width="0.60" />
<line x1="120.17" y1="303.60" x2="120.17" y2="305.00" stroke="#151515" stroke-width="0.60" />
<line x1="122.59" y1="303.60" x2="122.59" y2="305.00" stroke="#151515" stroke-width="0.60" />
<line x1="124.47" y1="303.60" x2="124.47" y2="305.00" stroke="#151515" stroke-width="0.60" />
<line x1="126.00" y1="303.60" x2="126.00" y2="305.00" stroke="#151515" stroke-width="0.60" />
<line x1="127.30" y1="303.60" x2="127.30" y2="305.00" stroke="#151515" stroke-width="0.60" />
<line x1="128.42" y1="303.60" x2="128.42" y2="305.00" stroke="#151515" stroke-width="0.60" />
<line x1="129.41" y1="303.60" x2="129.41" y2="305.00" stroke="#151515" stroke-width="0.60" />
<line x1="130.30" y1="303.60" x2="130.30" y2="306.20" stroke="#151515" stroke-width="0.90" />
<text x="125.90" y="319.20" font-size="7.40" text-anchor="start" fill="#1a1a1a" stroke="#1a1a1a" stroke-width="0.22">10<tspan font-size="5.2" dy="-2.9" stroke-width="0.08">4</tspan></text>
<g>
<clipPath id="cC1"><rect x="165.60" y="226.80" width="77.20" height="76.60"/></clipPath>
<g clip-path="url(#cC1)">
<path d="M165.61 303.30 L165.61 302.68 L166.11 302.43 L166.60 302.08 L167.10 301.62 L167.60 301.01 L168.10 300.24 L168.59 300.09 L169.09 297.54 L169.59 296.16 L170.08 294.72 L170.58 293.20 L171.08 289.20 L171.57 286.25 L172.07 283.70 L172.57 280.08 L173.06 276.82 L173.56 273.23 L174.06 267.95 L174.56 262.98 L175.05 259.80 L175.55 253.45 L176.05 250.24 L176.54 245.45 L177.04 241.12 L177.54 235.61 L178.03 233.11 L178.53 231.61 L179.03 234.11 L179.52 239.06 L180.02 244.33 L180.52 250.00 L181.02 256.81 L181.51 260.43 L182.01 267.56 L182.51 273.62 L183.00 277.18 L183.50 283.72 L184.00 285.94 L184.49 290.79 L184.99 293.59 L185.49 296.58 L185.98 298.18 L186.48 300.42 L186.98 300.75 L187.48 301.57 L187.97 302.15 L188.47 302.55 L188.97 302.82 L189.46 303.00 L189.96 303.12 L190.46 303.19 L190.95 303.24 L191.45 303.26 L191.45 303.30 Z" fill="#bdbdc1" fill-opacity="0.90" stroke="#8c8c92" stroke-width="0.9" stroke-linejoin="round"/>
<path d="M209.63 303.30 L209.63 302.68 L210.13 302.34 L210.63 301.85 L211.13 301.14 L211.62 300.17 L212.12 297.70 L212.62 298.03 L213.12 296.11 L213.61 290.88 L214.11 289.57 L214.61 285.77 L215.11 279.90 L215.60 275.65 L216.10 268.89 L216.60 264.95 L217.10 257.45 L217.59 253.31 L218.09 246.64 L218.59 239.68 L219.09 236.02 L219.58 231.96 L220.08 232.80 L220.58 238.48 L221.08 243.99 L221.57 252.36 L222.07 260.38 L222.57 267.87 L223.07 273.18 L223.56 280.29 L224.06 285.04 L224.56 290.14 L225.06 293.40 L225.55 297.22 L226.05 298.94 L226.55 300.87 L227.05 301.82 L227.55 302.43 L228.04 302.81 L228.54 303.03 L229.04 303.16 L229.54 303.23 L230.03 303.26 L230.03 303.30 Z" fill="#b4c0d6" fill-opacity="0.90" stroke="#36569a" stroke-width="0.9" stroke-linejoin="round"/>
<path d="M209.25 303.30 L209.25 302.72 L209.74 302.40 L210.24 301.93 L210.74 301.27 L211.24 300.35 L211.73 298.09 L212.23 296.40 L212.73 294.44 L213.23 293.75 L213.73 289.37 L214.22 286.03 L214.72 281.50 L215.22 277.71 L215.72 272.48 L216.21 266.60 L216.71 261.77 L217.21 255.79 L217.71 251.19 L218.20 245.26 L218.70 239.73 L219.20 237.15 L219.70 237.21 L220.19 240.48 L220.69 248.55 L221.19 256.48 L221.69 261.66 L222.18 268.91 L222.68 275.32 L223.18 281.49 L223.68 285.98 L224.17 291.86 L224.67 294.43 L225.17 298.03 L225.67 299.48 L226.16 301.00 L226.66 301.90 L227.16 302.48 L227.66 302.84 L228.15 303.05 L228.65 303.17 L229.15 303.23 L229.65 303.27 L229.65 303.30 Z" fill="#c06080" fill-opacity="0.75" stroke="#b3163e" stroke-width="0.9" stroke-linejoin="round"/>
<path d="M190.30 303.30 L190.30 303.29 L190.78 303.29 L191.27 303.27 L191.75 303.25 L192.24 303.22 L192.72 303.17 L193.21 303.10 L193.70 302.99 L194.18 302.85 L194.67 302.67 L195.15 302.44 L195.64 302.18 L196.12 301.90 L196.61 301.60 L197.10 301.30 L197.58 300.99 L198.07 300.67 L198.55 300.45 L199.04 300.45 L199.52 300.67 L200.01 300.99 L200.50 301.30 L200.98 301.60 L201.47 301.90 L201.95 302.18 L202.44 302.44 L202.92 302.67 L203.41 302.85 L203.90 302.99 L204.38 303.10 L204.87 303.17 L205.35 303.22 L205.84 303.25 L206.32 303.27 L206.81 303.29 L207.30 303.29 L207.30 303.30 Z" fill="none" stroke="#36569a" stroke-width="0.9"/>
<line x1="165.60" y1="303.10" x2="242.80" y2="303.10" stroke="#b3163e" stroke-width="1.00" />
</g></g>
<rect x="165.60" y="226.80" width="77.20" height="76.60" fill="none" stroke="#111" stroke-width="1.20" />
<line x1="162.00" y1="303.30" x2="165.60" y2="303.30" stroke="#151515" stroke-width="1.00" />
<text x="159.80" y="306.10" font-size="7.80" text-anchor="end" fill="#1a1a1a" stroke="#1a1a1a" stroke-width="0.22">0</text>
<line x1="162.00" y1="288.90" x2="165.60" y2="288.90" stroke="#151515" stroke-width="1.00" />
<text x="159.80" y="291.70" font-size="7.80" text-anchor="end" fill="#1a1a1a" stroke="#1a1a1a" stroke-width="0.22">100</text>
<line x1="162.00" y1="274.50" x2="165.60" y2="274.50" stroke="#151515" stroke-width="1.00" />
<text x="159.80" y="277.30" font-size="7.80" text-anchor="end" fill="#1a1a1a" stroke="#1a1a1a" stroke-width="0.22">200</text>
<line x1="162.00" y1="260.10" x2="165.60" y2="260.10" stroke="#151515" stroke-width="1.00" />
<text x="159.80" y="262.90" font-size="7.80" text-anchor="end" fill="#1a1a1a" stroke="#1a1a1a" stroke-width="0.22">300</text>
<line x1="162.00" y1="245.70" x2="165.60" y2="245.70" stroke="#151515" stroke-width="1.00" />
<text x="159.80" y="248.50" font-size="7.80" text-anchor="end" fill="#1a1a1a" stroke="#1a1a1a" stroke-width="0.22">400</text>
<line x1="162.00" y1="231.30" x2="165.60" y2="231.30" stroke="#151515" stroke-width="1.00" />
<text x="159.80" y="234.10" font-size="7.80" text-anchor="end" fill="#1a1a1a" stroke="#1a1a1a" stroke-width="0.22">500</text>
<line x1="163.80" y1="299.70" x2="165.60" y2="299.70" stroke="#151515" stroke-width="0.70" />
<line x1="163.80" y1="296.10" x2="165.60" y2="296.10" stroke="#151515" stroke-width="0.70" />
<line x1="163.80" y1="292.50" x2="165.60" y2="292.50" stroke="#151515" stroke-width="0.70" />
<line x1="163.80" y1="285.30" x2="165.60" y2="285.30" stroke="#151515" stroke-width="0.70" />
<line x1="163.80" y1="281.70" x2="165.60" y2="281.70" stroke="#151515" stroke-width="0.70" />
<line x1="163.80" y1="278.10" x2="165.60" y2="278.10" stroke="#151515" stroke-width="0.70" />
<line x1="163.80" y1="270.90" x2="165.60" y2="270.90" stroke="#151515" stroke-width="0.70" />
<line x1="163.80" y1="267.30" x2="165.60" y2="267.30" stroke="#151515" stroke-width="0.70" />
<line x1="163.80" y1="263.70" x2="165.60" y2="263.70" stroke="#151515" stroke-width="0.70" />
<line x1="163.80" y1="256.50" x2="165.60" y2="256.50" stroke="#151515" stroke-width="0.70" />
<line x1="163.80" y1="252.90" x2="165.60" y2="252.90" stroke="#151515" stroke-width="0.70" />
<line x1="163.80" y1="249.30" x2="165.60" y2="249.30" stroke="#151515" stroke-width="0.70" />
<line x1="163.80" y1="242.10" x2="165.60" y2="242.10" stroke="#151515" stroke-width="0.70" />
<line x1="163.80" y1="238.50" x2="165.60" y2="238.50" stroke="#151515" stroke-width="0.70" />
<line x1="163.80" y1="234.90" x2="165.60" y2="234.90" stroke="#151515" stroke-width="0.70" />
<line x1="165.60" y1="303.40" x2="165.60" y2="306.00" stroke="#151515" stroke-width="0.90" />
<text x="161.20" y="319.20" font-size="7.40" text-anchor="start" fill="#1a1a1a" stroke="#1a1a1a" stroke-width="0.22">10<tspan font-size="5.2" dy="-2.9" stroke-width="0.08">0</tspan></text>
<line x1="171.41" y1="303.40" x2="171.41" y2="304.80" stroke="#151515" stroke-width="0.60" />
<line x1="174.81" y1="303.40" x2="174.81" y2="304.80" stroke="#151515" stroke-width="0.60" />
<line x1="177.22" y1="303.40" x2="177.22" y2="304.80" stroke="#151515" stroke-width="0.60" />
<line x1="179.09" y1="303.40" x2="179.09" y2="304.80" stroke="#151515" stroke-width="0.60" />
<line x1="180.62" y1="303.40" x2="180.62" y2="304.80" stroke="#151515" stroke-width="0.60" />
<line x1="181.91" y1="303.40" x2="181.91" y2="304.80" stroke="#151515" stroke-width="0.60" />
<line x1="183.03" y1="303.40" x2="183.03" y2="304.80" stroke="#151515" stroke-width="0.60" />
<line x1="184.02" y1="303.40" x2="184.02" y2="304.80" stroke="#151515" stroke-width="0.60" />
<line x1="184.90" y1="303.40" x2="184.90" y2="306.00" stroke="#151515" stroke-width="0.90" />
<text x="180.50" y="319.20" font-size="7.40" text-anchor="start" fill="#1a1a1a" stroke="#1a1a1a" stroke-width="0.22">10<tspan font-size="5.2" dy="-2.9" stroke-width="0.08">1</tspan></text>
<line x1="190.71" y1="303.40" x2="190.71" y2="304.80" stroke="#151515" stroke-width="0.60" />
<line x1="194.11" y1="303.40" x2="194.11" y2="304.80" stroke="#151515" stroke-width="0.60" />
<line x1="196.52" y1="303.40" x2="196.52" y2="304.80" stroke="#151515" stroke-width="0.60" />
<line x1="198.39" y1="303.40" x2="198.39" y2="304.80" stroke="#151515" stroke-width="0.60" />
<line x1="199.92" y1="303.40" x2="199.92" y2="304.80" stroke="#151515" stroke-width="0.60" />
<line x1="201.21" y1="303.40" x2="201.21" y2="304.80" stroke="#151515" stroke-width="0.60" />
<line x1="202.33" y1="303.40" x2="202.33" y2="304.80" stroke="#151515" stroke-width="0.60" />
<line x1="203.32" y1="303.40" x2="203.32" y2="304.80" stroke="#151515" stroke-width="0.60" />
<line x1="204.20" y1="303.40" x2="204.20" y2="306.00" stroke="#151515" stroke-width="0.90" />
<text x="199.80" y="319.20" font-size="7.40" text-anchor="start" fill="#1a1a1a" stroke="#1a1a1a" stroke-width="0.22">10<tspan font-size="5.2" dy="-2.9" stroke-width="0.08">2</tspan></text>
<line x1="210.01" y1="303.40" x2="210.01" y2="304.80" stroke="#151515" stroke-width="0.60" />
<line x1="213.41" y1="303.40" x2="213.41" y2="304.80" stroke="#151515" stroke-width="0.60" />
<line x1="215.82" y1="303.40" x2="215.82" y2="304.80" stroke="#151515" stroke-width="0.60" />
<line x1="217.69" y1="303.40" x2="217.69" y2="304.80" stroke="#151515" stroke-width="0.60" />
<line x1="219.22" y1="303.40" x2="219.22" y2="304.80" stroke="#151515" stroke-width="0.60" />
<line x1="220.51" y1="303.40" x2="220.51" y2="304.80" stroke="#151515" stroke-width="0.60" />
<line x1="221.63" y1="303.40" x2="221.63" y2="304.80" stroke="#151515" stroke-width="0.60" />
<line x1="222.62" y1="303.40" x2="222.62" y2="304.80" stroke="#151515" stroke-width="0.60" />
<line x1="223.50" y1="303.40" x2="223.50" y2="306.00" stroke="#151515" stroke-width="0.90" />
<text x="219.10" y="319.20" font-size="7.40" text-anchor="start" fill="#1a1a1a" stroke="#1a1a1a" stroke-width="0.22">10<tspan font-size="5.2" dy="-2.9" stroke-width="0.08">3</tspan></text>
<line x1="229.31" y1="303.40" x2="229.31" y2="304.80" stroke="#151515" stroke-width="0.60" />
<line x1="232.71" y1="303.40" x2="232.71" y2="304.80" stroke="#151515" stroke-width="0.60" />
<line x1="235.12" y1="303.40" x2="235.12" y2="304.80" stroke="#151515" stroke-width="0.60" />
<line x1="236.99" y1="303.40" x2="236.99" y2="304.80" stroke="#151515" stroke-width="0.60" />
<line x1="238.52" y1="303.40" x2="238.52" y2="304.80" stroke="#151515" stroke-width="0.60" />
<line x1="239.81" y1="303.40" x2="239.81" y2="304.80" stroke="#151515" stroke-width="0.60" />
<line x1="240.93" y1="303.40" x2="240.93" y2="304.80" stroke="#151515" stroke-width="0.60" />
<line x1="241.92" y1="303.40" x2="241.92" y2="304.80" stroke="#151515" stroke-width="0.60" />
<line x1="242.80" y1="303.40" x2="242.80" y2="306.00" stroke="#151515" stroke-width="0.90" />
<text x="238.40" y="319.20" font-size="7.40" text-anchor="start" fill="#1a1a1a" stroke="#1a1a1a" stroke-width="0.22">10<tspan font-size="5.2" dy="-2.9" stroke-width="0.08">4</tspan></text>
<g>
<clipPath id="cC2"><rect x="278.60" y="226.40" width="77.00" height="77.00"/></clipPath>
<g clip-path="url(#cC2)">
<path d="M277.81 303.20 L277.81 302.57 L278.30 302.31 L278.80 301.96 L279.30 301.50 L279.80 300.89 L280.29 300.10 L280.79 300.34 L281.29 298.84 L281.78 296.59 L282.28 293.99 L282.78 293.17 L283.27 290.66 L283.77 287.40 L284.27 282.73 L284.76 280.61 L285.26 275.10 L285.76 271.07 L286.26 268.01 L286.75 262.50 L287.25 258.19 L287.75 253.70 L288.24 247.53 L288.74 244.98 L289.24 240.30 L289.73 234.81 L290.23 232.99 L290.73 232.35 L291.22 233.88 L291.72 237.31 L292.22 241.89 L292.72 249.96 L293.21 255.88 L293.71 260.73 L294.21 266.56 L294.70 271.11 L295.20 276.70 L295.70 282.79 L296.19 287.47 L296.69 289.56 L297.19 292.25 L297.68 297.20 L298.18 297.37 L298.68 298.55 L299.18 300.62 L299.67 301.45 L300.17 302.04 L300.67 302.44 L301.16 302.72 L301.66 302.90 L302.16 303.02 L302.65 303.09 L303.15 303.14 L303.65 303.16 L303.65 303.20 Z" fill="#bdbdc1" fill-opacity="0.90" stroke="#8c8c92" stroke-width="0.9" stroke-linejoin="round"/>
<path d="M321.92 303.20 L321.92 302.57 L322.41 302.23 L322.91 301.73 L323.41 301.02 L323.91 300.03 L324.40 299.78 L324.90 297.68 L325.40 295.20 L325.90 290.88 L326.39 288.50 L326.89 283.92 L327.39 280.91 L327.89 274.78 L328.38 268.48 L328.88 263.63 L329.38 256.81 L329.88 251.15 L330.37 246.42 L330.87 241.17 L331.37 234.90 L331.87 233.01 L332.36 233.60 L332.86 235.83 L333.36 243.25 L333.86 251.00 L334.35 258.10 L334.85 267.30 L335.35 274.66 L335.85 281.08 L336.34 284.61 L336.84 291.57 L337.34 295.22 L337.84 298.44 L338.33 300.44 L338.83 300.74 L339.33 301.70 L339.83 302.32 L340.32 302.70 L340.82 302.93 L341.32 303.06 L341.82 303.13 L342.31 303.16 L342.31 303.20 Z" fill="#b4c0d6" fill-opacity="0.90" stroke="#36569a" stroke-width="0.9" stroke-linejoin="round"/>
<path d="M321.72 303.20 L321.72 302.58 L322.22 302.23 L322.72 301.73 L323.22 301.03 L323.71 300.04 L324.21 298.54 L324.71 296.63 L325.21 293.93 L325.70 292.50 L326.20 288.16 L326.70 283.56 L327.20 278.94 L327.69 275.71 L328.19 269.09 L328.69 263.54 L329.19 258.11 L329.68 251.13 L330.18 246.23 L330.68 240.27 L331.18 234.67 L331.67 231.97 L332.17 233.11 L332.67 237.15 L333.17 244.35 L333.66 253.18 L334.16 259.15 L334.66 266.07 L335.16 273.89 L335.65 279.32 L336.15 284.80 L336.65 290.48 L337.15 293.92 L337.64 298.21 L338.14 300.43 L338.64 300.75 L339.14 301.71 L339.63 302.32 L340.13 302.70 L340.63 302.93 L341.13 303.06 L341.62 303.13 L342.12 303.16 L342.12 303.20 Z" fill="#c85a7a" fill-opacity="0.80" stroke="#9a1438" stroke-width="0.9" stroke-linejoin="round"/>
<line x1="278.60" y1="303.00" x2="355.60" y2="303.00" stroke="#b3163e" stroke-width="1.00" />
</g></g>
<rect x="278.60" y="226.40" width="77.00" height="77.00" fill="none" stroke="#111" stroke-width="1.20" />
<line x1="275.00" y1="303.20" x2="278.60" y2="303.20" stroke="#151515" stroke-width="1.00" />
<text x="272.80" y="306.00" font-size="7.80" text-anchor="end" fill="#1a1a1a" stroke="#1a1a1a" stroke-width="0.22">0</text>
<line x1="275.00" y1="289.70" x2="278.60" y2="289.70" stroke="#151515" stroke-width="1.00" />
<text x="272.80" y="292.50" font-size="7.80" text-anchor="end" fill="#1a1a1a" stroke="#1a1a1a" stroke-width="0.22">100</text>
<line x1="275.00" y1="276.20" x2="278.60" y2="276.20" stroke="#151515" stroke-width="1.00" />
<text x="272.80" y="279.00" font-size="7.80" text-anchor="end" fill="#1a1a1a" stroke="#1a1a1a" stroke-width="0.22">200</text>
<line x1="275.00" y1="262.70" x2="278.60" y2="262.70" stroke="#151515" stroke-width="1.00" />
<text x="272.80" y="265.50" font-size="7.80" text-anchor="end" fill="#1a1a1a" stroke="#1a1a1a" stroke-width="0.22">300</text>
<line x1="275.00" y1="249.20" x2="278.60" y2="249.20" stroke="#151515" stroke-width="1.00" />
<text x="272.80" y="252.00" font-size="7.80" text-anchor="end" fill="#1a1a1a" stroke="#1a1a1a" stroke-width="0.22">400</text>
<line x1="275.00" y1="235.70" x2="278.60" y2="235.70" stroke="#151515" stroke-width="1.00" />
<text x="272.80" y="238.50" font-size="7.80" text-anchor="end" fill="#1a1a1a" stroke="#1a1a1a" stroke-width="0.22">500</text>
<line x1="276.80" y1="299.82" x2="278.60" y2="299.82" stroke="#151515" stroke-width="0.70" />
<line x1="276.80" y1="296.45" x2="278.60" y2="296.45" stroke="#151515" stroke-width="0.70" />
<line x1="276.80" y1="293.07" x2="278.60" y2="293.07" stroke="#151515" stroke-width="0.70" />
<line x1="276.80" y1="286.32" x2="278.60" y2="286.32" stroke="#151515" stroke-width="0.70" />
<line x1="276.80" y1="282.95" x2="278.60" y2="282.95" stroke="#151515" stroke-width="0.70" />
<line x1="276.80" y1="279.57" x2="278.60" y2="279.57" stroke="#151515" stroke-width="0.70" />
<line x1="276.80" y1="272.82" x2="278.60" y2="272.82" stroke="#151515" stroke-width="0.70" />
<line x1="276.80" y1="269.45" x2="278.60" y2="269.45" stroke="#151515" stroke-width="0.70" />
<line x1="276.80" y1="266.07" x2="278.60" y2="266.07" stroke="#151515" stroke-width="0.70" />
<line x1="276.80" y1="259.32" x2="278.60" y2="259.32" stroke="#151515" stroke-width="0.70" />
<line x1="276.80" y1="255.95" x2="278.60" y2="255.95" stroke="#151515" stroke-width="0.70" />
<line x1="276.80" y1="252.57" x2="278.60" y2="252.57" stroke="#151515" stroke-width="0.70" />
<line x1="276.80" y1="245.82" x2="278.60" y2="245.82" stroke="#151515" stroke-width="0.70" />
<line x1="276.80" y1="242.45" x2="278.60" y2="242.45" stroke="#151515" stroke-width="0.70" />
<line x1="276.80" y1="239.07" x2="278.60" y2="239.07" stroke="#151515" stroke-width="0.70" />
<line x1="276.80" y1="232.32" x2="278.60" y2="232.32" stroke="#151515" stroke-width="0.70" />
<line x1="276.80" y1="228.95" x2="278.60" y2="228.95" stroke="#151515" stroke-width="0.70" />
<line x1="278.60" y1="303.40" x2="278.60" y2="306.00" stroke="#151515" stroke-width="0.90" />
<text x="274.20" y="319.20" font-size="7.40" text-anchor="start" fill="#1a1a1a" stroke="#1a1a1a" stroke-width="0.22">10<tspan font-size="5.2" dy="-2.9" stroke-width="0.08">0</tspan></text>
<line x1="284.39" y1="303.40" x2="284.39" y2="304.80" stroke="#151515" stroke-width="0.60" />
<line x1="287.78" y1="303.40" x2="287.78" y2="304.80" stroke="#151515" stroke-width="0.60" />
<line x1="290.19" y1="303.40" x2="290.19" y2="304.80" stroke="#151515" stroke-width="0.60" />
<line x1="292.06" y1="303.40" x2="292.06" y2="304.80" stroke="#151515" stroke-width="0.60" />
<line x1="293.58" y1="303.40" x2="293.58" y2="304.80" stroke="#151515" stroke-width="0.60" />
<line x1="294.87" y1="303.40" x2="294.87" y2="304.80" stroke="#151515" stroke-width="0.60" />
<line x1="295.98" y1="303.40" x2="295.98" y2="304.80" stroke="#151515" stroke-width="0.60" />
<line x1="296.97" y1="303.40" x2="296.97" y2="304.80" stroke="#151515" stroke-width="0.60" />
<line x1="297.85" y1="303.40" x2="297.85" y2="306.00" stroke="#151515" stroke-width="0.90" />
<text x="293.45" y="319.20" font-size="7.40" text-anchor="start" fill="#1a1a1a" stroke="#1a1a1a" stroke-width="0.22">10<tspan font-size="5.2" dy="-2.9" stroke-width="0.08">1</tspan></text>
<line x1="303.64" y1="303.40" x2="303.64" y2="304.80" stroke="#151515" stroke-width="0.60" />
<line x1="307.03" y1="303.40" x2="307.03" y2="304.80" stroke="#151515" stroke-width="0.60" />
<line x1="309.44" y1="303.40" x2="309.44" y2="304.80" stroke="#151515" stroke-width="0.60" />
<line x1="311.31" y1="303.40" x2="311.31" y2="304.80" stroke="#151515" stroke-width="0.60" />
<line x1="312.83" y1="303.40" x2="312.83" y2="304.80" stroke="#151515" stroke-width="0.60" />
<line x1="314.12" y1="303.40" x2="314.12" y2="304.80" stroke="#151515" stroke-width="0.60" />
<line x1="315.23" y1="303.40" x2="315.23" y2="304.80" stroke="#151515" stroke-width="0.60" />
<line x1="316.22" y1="303.40" x2="316.22" y2="304.80" stroke="#151515" stroke-width="0.60" />
<line x1="317.10" y1="303.40" x2="317.10" y2="306.00" stroke="#151515" stroke-width="0.90" />
<text x="312.70" y="319.20" font-size="7.40" text-anchor="start" fill="#1a1a1a" stroke="#1a1a1a" stroke-width="0.22">10<tspan font-size="5.2" dy="-2.9" stroke-width="0.08">2</tspan></text>
<line x1="322.89" y1="303.40" x2="322.89" y2="304.80" stroke="#151515" stroke-width="0.60" />
<line x1="326.28" y1="303.40" x2="326.28" y2="304.80" stroke="#151515" stroke-width="0.60" />
<line x1="328.69" y1="303.40" x2="328.69" y2="304.80" stroke="#151515" stroke-width="0.60" />
<line x1="330.56" y1="303.40" x2="330.56" y2="304.80" stroke="#151515" stroke-width="0.60" />
<line x1="332.08" y1="303.40" x2="332.08" y2="304.80" stroke="#151515" stroke-width="0.60" />
<line x1="333.37" y1="303.40" x2="333.37" y2="304.80" stroke="#151515" stroke-width="0.60" />
<line x1="334.48" y1="303.40" x2="334.48" y2="304.80" stroke="#151515" stroke-width="0.60" />
<line x1="335.47" y1="303.40" x2="335.47" y2="304.80" stroke="#151515" stroke-width="0.60" />
<line x1="336.35" y1="303.40" x2="336.35" y2="306.00" stroke="#151515" stroke-width="0.90" />
<text x="331.95" y="319.20" font-size="7.40" text-anchor="start" fill="#1a1a1a" stroke="#1a1a1a" stroke-width="0.22">10<tspan font-size="5.2" dy="-2.9" stroke-width="0.08">3</tspan></text>
<line x1="342.14" y1="303.40" x2="342.14" y2="304.80" stroke="#151515" stroke-width="0.60" />
<line x1="345.53" y1="303.40" x2="345.53" y2="304.80" stroke="#151515" stroke-width="0.60" />
<line x1="347.94" y1="303.40" x2="347.94" y2="304.80" stroke="#151515" stroke-width="0.60" />
<line x1="349.81" y1="303.40" x2="349.81" y2="304.80" stroke="#151515" stroke-width="0.60" />
<line x1="351.33" y1="303.40" x2="351.33" y2="304.80" stroke="#151515" stroke-width="0.60" />
<line x1="352.62" y1="303.40" x2="352.62" y2="304.80" stroke="#151515" stroke-width="0.60" />
<line x1="353.73" y1="303.40" x2="353.73" y2="304.80" stroke="#151515" stroke-width="0.60" />
<line x1="354.72" y1="303.40" x2="354.72" y2="304.80" stroke="#151515" stroke-width="0.60" />
<line x1="355.60" y1="303.40" x2="355.60" y2="306.00" stroke="#151515" stroke-width="0.90" />
<text x="351.20" y="319.20" font-size="7.40" text-anchor="start" fill="#1a1a1a" stroke="#1a1a1a" stroke-width="0.22">10<tspan font-size="5.2" dy="-2.9" stroke-width="0.08">4</tspan></text>
<line x1="28.80" y1="228.50" x2="28.80" y2="325.10" stroke="#151515" stroke-width="1.10" />
<line x1="28.30" y1="325.10" x2="352.00" y2="325.10" stroke="#151515" stroke-width="1.10" />
<path d="M28.8 225.0 L26.1 232.0 L28.8 230.6 L31.5 232.0 Z" fill="#151515"/>
<path d="M356.0 325.1 L349.0 322.4 L350.4 325.1 L349.0 327.8 Z" fill="#151515"/>
<text x="0.00" y="0.00" font-size="9.60" text-anchor="middle" fill="#1a1a1a" stroke="#1a1a1a" stroke-width="0.31" transform="translate(22.40 310.00) rotate(-90.00) scale(0.720 1)">Cell count</text>
<text x="0.00" y="0.00" font-size="9.60" text-anchor="start" fill="#1a1a1a" stroke="#1a1a1a" stroke-width="0.31" transform="translate(28.30 335.60) scale(0.710 1)">Rho-123 (FL-1)</text>
<rect x="365.00" y="253.50" width="11.10" height="5.90" fill="#4b5266" stroke="none" stroke-width="1.00" />
<text x="379.20" y="259.00" font-size="7.70" text-anchor="start" fill="#1a1a1a" stroke="#1a1a1a" stroke-width="0.22">Control</text>
<rect x="365.00" y="265.15" width="11.10" height="5.90" fill="#c8c8cc" stroke="none" stroke-width="1.00" />
<text x="379.20" y="270.65" font-size="7.70" text-anchor="start" fill="#1a1a1a" stroke="#1a1a1a" stroke-width="0.22">Tari</text>
<rect x="365.00" y="276.80" width="11.10" height="5.90" fill="#2c4a88" stroke="none" stroke-width="1.00" />
<text x="379.20" y="282.30" font-size="7.70" text-anchor="start" fill="#1a1a1a" stroke="#1a1a1a" stroke-width="0.22">Rho-123</text>
<rect x="365.00" y="288.45" width="11.10" height="5.90" fill="#a8062e" stroke="none" stroke-width="1.00" />
<text x="379.20" y="293.95" font-size="7.70" text-anchor="start" fill="#1a1a1a" stroke="#1a1a1a" stroke-width="0.22">Rho-123 + Tari</text>
<text x="7.00" y="357.00" font-size="11.20" text-anchor="start" fill="#000" font-weight="bold" stroke="#000" stroke-width="0.3">D</text>
<text x="105.00" y="367.70" font-size="9.30" text-anchor="middle" fill="#1a1a1a" stroke="#1a1a1a" stroke-width="0.22">KG1 Controls 7A and 4B</text>
<line x1="40.00" y1="374.28" x2="40.00" y2="461.80" stroke="#151515" stroke-width="1.20" />
<line x1="39.40" y1="461.20" x2="169.10" y2="461.20" stroke="#151515" stroke-width="1.20" />
<line x1="36.70" y1="461.20" x2="40.00" y2="461.20" stroke="#151515" stroke-width="1.00" />
<text x="34.60" y="464.10" font-size="8.20" text-anchor="end" fill="#1a1a1a" stroke="#1a1a1a" stroke-width="0.22">0</text>
<line x1="36.70" y1="444.24" x2="40.00" y2="444.24" stroke="#151515" stroke-width="1.00" />
<text x="34.60" y="447.14" font-size="8.20" text-anchor="end" fill="#1a1a1a" stroke="#1a1a1a" stroke-width="0.22">20</text>
<line x1="36.70" y1="427.28" x2="40.00" y2="427.28" stroke="#151515" stroke-width="1.00" />
<text x="34.60" y="430.18" font-size="8.20" text-anchor="end" fill="#1a1a1a" stroke="#1a1a1a" stroke-width="0.22">40</text>
<line x1="36.70" y1="410.32" x2="40.00" y2="410.32" stroke="#151515" stroke-width="1.00" />
<text x="34.60" y="413.22" font-size="8.20" text-anchor="end" fill="#1a1a1a" stroke="#1a1a1a" stroke-width="0.22">60</text>
<line x1="36.70" y1="393.36" x2="40.00" y2="393.36" stroke="#151515" stroke-width="1.00" />
<text x="34.60" y="396.26" font-size="8.20" text-anchor="end" fill="#1a1a1a" stroke="#1a1a1a" stroke-width="0.22">80</text>
<line x1="36.70" y1="376.40" x2="40.00" y2="376.40" stroke="#151515" stroke-width="1.00" />
<text x="34.60" y="379.30" font-size="8.20" text-anchor="end" fill="#1a1a1a" stroke="#1a1a1a" stroke-width="0.22">100</text>
<line x1="40.00" y1="461.20" x2="40.00" y2="464.00" stroke="#151515" stroke-width="1.00" />
<text x="40.00" y="473.60" font-size="8.20" text-anchor="middle" fill="#1a1a1a" stroke="#1a1a1a" stroke-width="0.22">0</text>
<line x1="65.70" y1="461.20" x2="65.70" y2="464.00" stroke="#151515" stroke-width="1.00" />
<text x="65.70" y="473.60" font-size="8.20" text-anchor="middle" fill="#1a1a1a" stroke="#1a1a1a" stroke-width="0.22">0.5</text>
<line x1="91.40" y1="461.20" x2="91.40" y2="464.00" stroke="#151515" stroke-width="1.00" />
<text x="91.40" y="473.60" font-size="8.20" text-anchor="middle" fill="#1a1a1a" stroke="#1a1a1a" stroke-width="0.22">1.0</text>
<line x1="117.10" y1="461.20" x2="117.10" y2="464.00" stroke="#151515" stroke-width="1.00" />
<text x="117.10" y="473.60" font-size="8.20" text-anchor="middle" fill="#1a1a1a" stroke="#1a1a1a" stroke-width="0.22">1.5</text>
<line x1="142.80" y1="461.20" x2="142.80" y2="464.00" stroke="#151515" stroke-width="1.00" />
<text x="142.80" y="473.60" font-size="8.20" text-anchor="middle" fill="#1a1a1a" stroke="#1a1a1a" stroke-width="0.22">2.0</text>
<line x1="168.50" y1="461.20" x2="168.50" y2="464.00" stroke="#151515" stroke-width="1.00" />
<text x="168.50" y="473.60" font-size="8.20" text-anchor="middle" fill="#1a1a1a" stroke="#1a1a1a" stroke-width="0.22">2.5</text>
<text x="0.00" y="0.00" font-size="9.00" text-anchor="middle" fill="#1a1a1a" stroke="#1a1a1a" stroke-width="0.27" transform="translate(105.79 486.00) scale(0.800 1)">Bir (μM)</text>
<text x="0.00" y="0.00" font-size="9.60" text-anchor="middle" fill="#1a1a1a" stroke="#1a1a1a" stroke-width="0.32" transform="translate(15.30 417.00) rotate(-90.00) scale(0.690 1)">% cell survival</text>
<polyline points="40.00,384.03 44.11,403.54 60.56,431.52 142.80,434.49" fill="none" stroke="#66ab3e" stroke-width="1.5" stroke-dasharray="3.2 2.2"/>
<line x1="40.00" y1="384.88" x2="40.00" y2="383.18" stroke="#66ab3e" stroke-width="0.80" />
<line x1="38.40" y1="383.18" x2="41.60" y2="383.18" stroke="#66ab3e" stroke-width="0.80" />
<line x1="38.40" y1="384.88" x2="41.60" y2="384.88" stroke="#66ab3e" stroke-width="0.80" />
<path d="M40.00 386.43 L37.60 382.23 L42.40 382.23 Z" fill="#66ab3e"/>
<line x1="44.11" y1="406.08" x2="44.11" y2="400.99" stroke="#66ab3e" stroke-width="0.80" />
<line x1="42.51" y1="400.99" x2="45.71" y2="400.99" stroke="#66ab3e" stroke-width="0.80" />
<line x1="42.51" y1="406.08" x2="45.71" y2="406.08" stroke="#66ab3e" stroke-width="0.80" />
<path d="M44.11 405.94 L41.71 401.74 L46.51 401.74 Z" fill="#66ab3e"/>
<line x1="60.56" y1="434.91" x2="60.56" y2="428.13" stroke="#66ab3e" stroke-width="0.80" />
<line x1="58.96" y1="428.13" x2="62.16" y2="428.13" stroke="#66ab3e" stroke-width="0.80" />
<line x1="58.96" y1="434.91" x2="62.16" y2="434.91" stroke="#66ab3e" stroke-width="0.80" />
<path d="M60.56 433.92 L58.16 429.72 L62.96 429.72 Z" fill="#66ab3e"/>
<line x1="142.80" y1="438.73" x2="142.80" y2="430.25" stroke="#66ab3e" stroke-width="0.80" />
<line x1="141.20" y1="430.25" x2="144.40" y2="430.25" stroke="#66ab3e" stroke-width="0.80" />
<line x1="141.20" y1="438.73" x2="144.40" y2="438.73" stroke="#66ab3e" stroke-width="0.80" />
<path d="M142.80 436.89 L140.40 432.69 L145.20 432.69 Z" fill="#66ab3e"/>
<polyline points="40.00,383.18 44.11,400.14 60.56,432.37 142.80,436.61" fill="none" stroke="#66ab3e" stroke-width="1.5"/>
<line x1="40.00" y1="384.03" x2="40.00" y2="382.34" stroke="#66ab3e" stroke-width="0.80" />
<line x1="38.40" y1="382.34" x2="41.60" y2="382.34" stroke="#66ab3e" stroke-width="0.80" />
<line x1="38.40" y1="384.03" x2="41.60" y2="384.03" stroke="#66ab3e" stroke-width="0.80" />
<path d="M40.00 380.78 L37.60 384.98 L42.40 384.98 Z" fill="#66ab3e"/>
<line x1="44.11" y1="402.69" x2="44.11" y2="397.60" stroke="#66ab3e" stroke-width="0.80" />
<line x1="42.51" y1="397.60" x2="45.71" y2="397.60" stroke="#66ab3e" stroke-width="0.80" />
<line x1="42.51" y1="402.69" x2="45.71" y2="402.69" stroke="#66ab3e" stroke-width="0.80" />
<path d="M44.11 397.74 L41.71 401.94 L46.51 401.94 Z" fill="#66ab3e"/>
<line x1="60.56" y1="434.91" x2="60.56" y2="429.82" stroke="#66ab3e" stroke-width="0.80" />
<line x1="58.96" y1="429.82" x2="62.16" y2="429.82" stroke="#66ab3e" stroke-width="0.80" />
<line x1="58.96" y1="434.91" x2="62.16" y2="434.91" stroke="#66ab3e" stroke-width="0.80" />
<path d="M60.56 429.97 L58.16 434.17 L62.96 434.17 Z" fill="#66ab3e"/>
<line x1="142.80" y1="439.15" x2="142.80" y2="434.06" stroke="#66ab3e" stroke-width="0.80" />
<line x1="141.20" y1="434.06" x2="144.40" y2="434.06" stroke="#66ab3e" stroke-width="0.80" />
<line x1="141.20" y1="439.15" x2="144.40" y2="439.15" stroke="#66ab3e" stroke-width="0.80" />
<path d="M142.80 434.21 L140.40 438.41 L145.20 438.41 Z" fill="#66ab3e"/>
<polyline points="40.00,389.97 44.11,409.90 60.56,440.00 142.80,442.97" fill="none" stroke="#a8022e" stroke-width="1.5" stroke-dasharray="3.2 2.2"/>
<line x1="40.00" y1="391.66" x2="40.00" y2="388.27" stroke="#a8022e" stroke-width="0.80" />
<line x1="38.40" y1="388.27" x2="41.60" y2="388.27" stroke="#a8022e" stroke-width="0.80" />
<line x1="38.40" y1="391.66" x2="41.60" y2="391.66" stroke="#a8022e" stroke-width="0.80" />
<circle cx="40.00" cy="389.97" r="2.30" fill="#a8022e" stroke="none" stroke-width="1.00" />
<line x1="44.11" y1="412.44" x2="44.11" y2="407.35" stroke="#a8022e" stroke-width="0.80" />
<line x1="42.51" y1="407.35" x2="45.71" y2="407.35" stroke="#a8022e" stroke-width="0.80" />
<line x1="42.51" y1="412.44" x2="45.71" y2="412.44" stroke="#a8022e" stroke-width="0.80" />
<circle cx="44.11" cy="409.90" r="2.30" fill="#a8022e" stroke="none" stroke-width="1.00" />
<line x1="60.56" y1="441.70" x2="60.56" y2="438.30" stroke="#a8022e" stroke-width="0.80" />
<line x1="58.96" y1="438.30" x2="62.16" y2="438.30" stroke="#a8022e" stroke-width="0.80" />
<line x1="58.96" y1="441.70" x2="62.16" y2="441.70" stroke="#a8022e" stroke-width="0.80" />
<circle cx="60.56" cy="440.00" r="2.30" fill="#a8022e" stroke="none" stroke-width="1.00" />
<line x1="142.80" y1="445.51" x2="142.80" y2="440.42" stroke="#a8022e" stroke-width="0.80" />
<line x1="141.20" y1="440.42" x2="144.40" y2="440.42" stroke="#a8022e" stroke-width="0.80" />
<line x1="141.20" y1="445.51" x2="144.40" y2="445.51" stroke="#a8022e" stroke-width="0.80" />
<circle cx="142.80" cy="442.97" r="2.30" fill="#a8022e" stroke="none" stroke-width="1.00" />
<polyline points="40.00,383.18 44.11,400.99 60.56,433.22 142.80,437.46" fill="none" stroke="#a8022e" stroke-width="1.5"/>
<line x1="40.00" y1="384.03" x2="40.00" y2="382.34" stroke="#a8022e" stroke-width="0.80" />
<line x1="38.40" y1="382.34" x2="41.60" y2="382.34" stroke="#a8022e" stroke-width="0.80" />
<line x1="38.40" y1="384.03" x2="41.60" y2="384.03" stroke="#a8022e" stroke-width="0.80" />
<rect x="37.80" y="380.98" width="4.40" height="4.40" fill="#a8022e" stroke="none" stroke-width="1.00" />
<line x1="44.11" y1="403.54" x2="44.11" y2="398.45" stroke="#a8022e" stroke-width="0.80" />
<line x1="42.51" y1="398.45" x2="45.71" y2="398.45" stroke="#a8022e" stroke-width="0.80" />
<line x1="42.51" y1="403.54" x2="45.71" y2="403.54" stroke="#a8022e" stroke-width="0.80" />
<rect x="41.91" y="398.79" width="4.40" height="4.40" fill="#a8022e" stroke="none" stroke-width="1.00" />
<line x1="60.56" y1="435.76" x2="60.56" y2="430.67" stroke="#a8022e" stroke-width="0.80" />
<line x1="58.96" y1="430.67" x2="62.16" y2="430.67" stroke="#a8022e" stroke-width="0.80" />
<line x1="58.96" y1="435.76" x2="62.16" y2="435.76" stroke="#a8022e" stroke-width="0.80" />
<rect x="58.36" y="431.02" width="4.40" height="4.40" fill="#a8022e" stroke="none" stroke-width="1.00" />
<line x1="142.80" y1="440.00" x2="142.80" y2="434.91" stroke="#a8022e" stroke-width="0.80" />
<line x1="141.20" y1="434.91" x2="144.40" y2="434.91" stroke="#a8022e" stroke-width="0.80" />
<line x1="141.20" y1="440.00" x2="144.40" y2="440.00" stroke="#a8022e" stroke-width="0.80" />
<rect x="140.60" y="435.26" width="4.40" height="4.40" fill="#a8022e" stroke="none" stroke-width="1.00" />
<polyline points="40.00,382.76 44.11,382.76 60.56,383.35 142.80,385.30" fill="none" stroke="#4b5266" stroke-width="1.5"/>
<circle cx="40.00" cy="382.76" r="2.30" fill="#4b5266" stroke="none" stroke-width="1.00" />
<circle cx="44.11" cy="382.76" r="2.30" fill="#4b5266" stroke="none" stroke-width="1.00" />
<circle cx="60.56" cy="383.35" r="2.30" fill="#4b5266" stroke="none" stroke-width="1.00" />
<circle cx="142.80" cy="385.30" r="2.30" fill="#4b5266" stroke="none" stroke-width="1.00" />
<line x1="43.74" y1="387.85" x2="45.94" y2="387.85" stroke="#a8022e" stroke-width="0.45" />
<line x1="44.29" y1="386.90" x2="45.39" y2="388.80" stroke="#a8022e" stroke-width="0.45" />
<line x1="45.39" y1="386.90" x2="44.29" y2="388.80" stroke="#a8022e" stroke-width="0.45" />
<line x1="46.34" y1="387.85" x2="48.54" y2="387.85" stroke="#a8022e" stroke-width="0.45" />
<line x1="46.89" y1="386.90" x2="47.99" y2="388.80" stroke="#a8022e" stroke-width="0.45" />
<line x1="47.99" y1="386.90" x2="46.89" y2="388.80" stroke="#a8022e" stroke-width="0.45" />
<line x1="48.94" y1="387.85" x2="51.14" y2="387.85" stroke="#a8022e" stroke-width="0.45" />
<line x1="49.49" y1="386.90" x2="50.59" y2="388.80" stroke="#a8022e" stroke-width="0.45" />
<line x1="50.59" y1="386.90" x2="49.49" y2="388.80" stroke="#a8022e" stroke-width="0.45" />
<line x1="51.54" y1="387.85" x2="53.74" y2="387.85" stroke="#a8022e" stroke-width="0.45" />
<line x1="52.09" y1="386.90" x2="53.19" y2="388.80" stroke="#a8022e" stroke-width="0.45" />
<line x1="53.19" y1="386.90" x2="52.09" y2="388.80" stroke="#a8022e" stroke-width="0.45" />
<line x1="43.14" y1="389.85" x2="54.34" y2="389.85" stroke="#a8022e" stroke-width="0.55" />
<line x1="39.37" y1="418.80" x2="41.57" y2="418.80" stroke="#a8022e" stroke-width="0.45" />
<line x1="39.92" y1="417.85" x2="41.02" y2="419.75" stroke="#a8022e" stroke-width="0.45" />
<line x1="41.02" y1="417.85" x2="39.92" y2="419.75" stroke="#a8022e" stroke-width="0.45" />
<line x1="41.97" y1="418.80" x2="44.17" y2="418.80" stroke="#a8022e" stroke-width="0.45" />
<line x1="42.52" y1="417.85" x2="43.62" y2="419.75" stroke="#a8022e" stroke-width="0.45" />
<line x1="43.62" y1="417.85" x2="42.52" y2="419.75" stroke="#a8022e" stroke-width="0.45" />
<line x1="44.57" y1="418.80" x2="46.77" y2="418.80" stroke="#a8022e" stroke-width="0.45" />
<line x1="45.12" y1="417.85" x2="46.22" y2="419.75" stroke="#a8022e" stroke-width="0.45" />
<line x1="46.22" y1="417.85" x2="45.12" y2="419.75" stroke="#a8022e" stroke-width="0.45" />
<line x1="47.17" y1="418.80" x2="49.37" y2="418.80" stroke="#a8022e" stroke-width="0.45" />
<line x1="47.72" y1="417.85" x2="48.82" y2="419.75" stroke="#a8022e" stroke-width="0.45" />
<line x1="48.82" y1="417.85" x2="47.72" y2="419.75" stroke="#a8022e" stroke-width="0.45" />
<line x1="38.77" y1="420.80" x2="49.97" y2="420.80" stroke="#a8022e" stroke-width="0.55" />
<line x1="59.19" y1="425.58" x2="61.39" y2="425.58" stroke="#66ab3e" stroke-width="0.45" />
<line x1="59.74" y1="424.63" x2="60.84" y2="426.54" stroke="#66ab3e" stroke-width="0.45" />
<line x1="60.84" y1="424.63" x2="59.74" y2="426.54" stroke="#66ab3e" stroke-width="0.45" />
<line x1="61.79" y1="425.58" x2="63.99" y2="425.58" stroke="#66ab3e" stroke-width="0.45" />
<line x1="62.34" y1="424.63" x2="63.44" y2="426.54" stroke="#66ab3e" stroke-width="0.45" />
<line x1="63.44" y1="424.63" x2="62.34" y2="426.54" stroke="#66ab3e" stroke-width="0.45" />
<line x1="58.59" y1="427.58" x2="64.59" y2="427.58" stroke="#66ab3e" stroke-width="0.55" />
<line x1="59.19" y1="428.98" x2="61.39" y2="428.98" stroke="#66ab3e" stroke-width="0.45" />
<line x1="59.74" y1="428.02" x2="60.84" y2="429.93" stroke="#66ab3e" stroke-width="0.45" />
<line x1="60.84" y1="428.02" x2="59.74" y2="429.93" stroke="#66ab3e" stroke-width="0.45" />
<line x1="61.79" y1="428.98" x2="63.99" y2="428.98" stroke="#66ab3e" stroke-width="0.45" />
<line x1="62.34" y1="428.02" x2="63.44" y2="429.93" stroke="#66ab3e" stroke-width="0.45" />
<line x1="63.44" y1="428.02" x2="62.34" y2="429.93" stroke="#66ab3e" stroke-width="0.45" />
<line x1="59.19" y1="422.62" x2="61.39" y2="422.62" stroke="#66ab3e" stroke-width="0.45" />
<line x1="59.74" y1="421.66" x2="60.84" y2="423.57" stroke="#66ab3e" stroke-width="0.45" />
<line x1="60.84" y1="421.66" x2="59.74" y2="423.57" stroke="#66ab3e" stroke-width="0.45" />
<line x1="61.79" y1="422.62" x2="63.99" y2="422.62" stroke="#66ab3e" stroke-width="0.45" />
<line x1="62.34" y1="421.66" x2="63.44" y2="423.57" stroke="#66ab3e" stroke-width="0.45" />
<line x1="63.44" y1="421.66" x2="62.34" y2="423.57" stroke="#66ab3e" stroke-width="0.45" />
<line x1="55.56" y1="447.21" x2="57.76" y2="447.21" stroke="#a8022e" stroke-width="0.45" />
<line x1="56.11" y1="446.26" x2="57.21" y2="448.16" stroke="#a8022e" stroke-width="0.45" />
<line x1="57.21" y1="446.26" x2="56.11" y2="448.16" stroke="#a8022e" stroke-width="0.45" />
<line x1="58.16" y1="447.21" x2="60.36" y2="447.21" stroke="#a8022e" stroke-width="0.45" />
<line x1="58.71" y1="446.26" x2="59.81" y2="448.16" stroke="#a8022e" stroke-width="0.45" />
<line x1="59.81" y1="446.26" x2="58.71" y2="448.16" stroke="#a8022e" stroke-width="0.45" />
<line x1="60.76" y1="447.21" x2="62.96" y2="447.21" stroke="#a8022e" stroke-width="0.45" />
<line x1="61.31" y1="446.26" x2="62.41" y2="448.16" stroke="#a8022e" stroke-width="0.45" />
<line x1="62.41" y1="446.26" x2="61.31" y2="448.16" stroke="#a8022e" stroke-width="0.45" />
<line x1="63.36" y1="447.21" x2="65.56" y2="447.21" stroke="#a8022e" stroke-width="0.45" />
<line x1="63.91" y1="446.26" x2="65.01" y2="448.16" stroke="#a8022e" stroke-width="0.45" />
<line x1="65.01" y1="446.26" x2="63.91" y2="448.16" stroke="#a8022e" stroke-width="0.45" />
<line x1="54.96" y1="449.21" x2="66.16" y2="449.21" stroke="#a8022e" stroke-width="0.55" />
<line x1="58.16" y1="444.24" x2="60.36" y2="444.24" stroke="#a8022e" stroke-width="0.45" />
<line x1="58.71" y1="443.29" x2="59.81" y2="445.19" stroke="#a8022e" stroke-width="0.45" />
<line x1="59.81" y1="443.29" x2="58.71" y2="445.19" stroke="#a8022e" stroke-width="0.45" />
<line x1="60.76" y1="444.24" x2="62.96" y2="444.24" stroke="#a8022e" stroke-width="0.45" />
<line x1="61.31" y1="443.29" x2="62.41" y2="445.19" stroke="#a8022e" stroke-width="0.45" />
<line x1="62.41" y1="443.29" x2="61.31" y2="445.19" stroke="#a8022e" stroke-width="0.45" />
<line x1="137.80" y1="448.90" x2="140.00" y2="448.90" stroke="#a8022e" stroke-width="0.45" />
<line x1="138.35" y1="447.95" x2="139.45" y2="449.86" stroke="#a8022e" stroke-width="0.45" />
<line x1="139.45" y1="447.95" x2="138.35" y2="449.86" stroke="#a8022e" stroke-width="0.45" />
<line x1="140.40" y1="448.90" x2="142.60" y2="448.90" stroke="#a8022e" stroke-width="0.45" />
<line x1="140.95" y1="447.95" x2="142.05" y2="449.86" stroke="#a8022e" stroke-width="0.45" />
<line x1="142.05" y1="447.95" x2="140.95" y2="449.86" stroke="#a8022e" stroke-width="0.45" />
<line x1="143.00" y1="448.90" x2="145.20" y2="448.90" stroke="#a8022e" stroke-width="0.45" />
<line x1="143.55" y1="447.95" x2="144.65" y2="449.86" stroke="#a8022e" stroke-width="0.45" />
<line x1="144.65" y1="447.95" x2="143.55" y2="449.86" stroke="#a8022e" stroke-width="0.45" />
<line x1="145.60" y1="448.90" x2="147.80" y2="448.90" stroke="#a8022e" stroke-width="0.45" />
<line x1="146.15" y1="447.95" x2="147.25" y2="449.86" stroke="#a8022e" stroke-width="0.45" />
<line x1="147.25" y1="447.95" x2="146.15" y2="449.86" stroke="#a8022e" stroke-width="0.45" />
<line x1="137.20" y1="450.90" x2="148.40" y2="450.90" stroke="#a8022e" stroke-width="0.55" />
<line x1="140.40" y1="446.36" x2="142.60" y2="446.36" stroke="#a8022e" stroke-width="0.45" />
<line x1="140.95" y1="445.41" x2="142.05" y2="447.31" stroke="#a8022e" stroke-width="0.45" />
<line x1="142.05" y1="445.41" x2="140.95" y2="447.31" stroke="#a8022e" stroke-width="0.45" />
<line x1="143.00" y1="446.36" x2="145.20" y2="446.36" stroke="#a8022e" stroke-width="0.45" />
<line x1="143.55" y1="445.41" x2="144.65" y2="447.31" stroke="#a8022e" stroke-width="0.45" />
<line x1="144.65" y1="445.41" x2="143.55" y2="447.31" stroke="#a8022e" stroke-width="0.45" />
<line x1="140.40" y1="426.43" x2="142.60" y2="426.43" stroke="#66ab3e" stroke-width="0.45" />
<line x1="140.95" y1="425.48" x2="142.05" y2="427.38" stroke="#66ab3e" stroke-width="0.45" />
<line x1="142.05" y1="425.48" x2="140.95" y2="427.38" stroke="#66ab3e" stroke-width="0.45" />
<line x1="143.00" y1="426.43" x2="145.20" y2="426.43" stroke="#66ab3e" stroke-width="0.45" />
<line x1="143.55" y1="425.48" x2="144.65" y2="427.38" stroke="#66ab3e" stroke-width="0.45" />
<line x1="144.65" y1="425.48" x2="143.55" y2="427.38" stroke="#66ab3e" stroke-width="0.45" />
<line x1="139.80" y1="428.43" x2="145.80" y2="428.43" stroke="#66ab3e" stroke-width="0.55" />
<line x1="140.40" y1="423.04" x2="142.60" y2="423.04" stroke="#66ab3e" stroke-width="0.45" />
<line x1="140.95" y1="422.09" x2="142.05" y2="423.99" stroke="#66ab3e" stroke-width="0.45" />
<line x1="142.05" y1="422.09" x2="140.95" y2="423.99" stroke="#66ab3e" stroke-width="0.45" />
<line x1="143.00" y1="423.04" x2="145.20" y2="423.04" stroke="#66ab3e" stroke-width="0.45" />
<line x1="143.55" y1="422.09" x2="144.65" y2="423.99" stroke="#66ab3e" stroke-width="0.45" />
<line x1="144.65" y1="422.09" x2="143.55" y2="423.99" stroke="#66ab3e" stroke-width="0.45" />
<line x1="140.40" y1="428.98" x2="142.60" y2="428.98" stroke="#66ab3e" stroke-width="0.45" />
<line x1="140.95" y1="428.02" x2="142.05" y2="429.93" stroke="#66ab3e" stroke-width="0.45" />
<line x1="142.05" y1="428.02" x2="140.95" y2="429.93" stroke="#66ab3e" stroke-width="0.45" />
<line x1="143.00" y1="428.98" x2="145.20" y2="428.98" stroke="#66ab3e" stroke-width="0.45" />
<line x1="143.55" y1="428.02" x2="144.65" y2="429.93" stroke="#66ab3e" stroke-width="0.45" />
<line x1="144.65" y1="428.02" x2="143.55" y2="429.93" stroke="#66ab3e" stroke-width="0.45" />
<line x1="47.64" y1="396.75" x2="49.84" y2="396.75" stroke="#66ab3e" stroke-width="0.45" />
<line x1="48.19" y1="395.80" x2="49.29" y2="397.70" stroke="#66ab3e" stroke-width="0.45" />
<line x1="49.29" y1="395.80" x2="48.19" y2="397.70" stroke="#66ab3e" stroke-width="0.45" />
<line x1="46.34" y1="401.84" x2="48.54" y2="401.84" stroke="#66ab3e" stroke-width="0.45" />
<line x1="46.89" y1="400.89" x2="47.99" y2="402.79" stroke="#66ab3e" stroke-width="0.45" />
<line x1="47.99" y1="400.89" x2="46.89" y2="402.79" stroke="#66ab3e" stroke-width="0.45" />
<line x1="48.94" y1="401.84" x2="51.14" y2="401.84" stroke="#66ab3e" stroke-width="0.45" />
<line x1="49.49" y1="400.89" x2="50.59" y2="402.79" stroke="#66ab3e" stroke-width="0.45" />
<line x1="50.59" y1="400.89" x2="49.49" y2="402.79" stroke="#66ab3e" stroke-width="0.45" />
<text x="177.00" y="357.00" font-size="11.20" text-anchor="start" fill="#000" font-weight="bold" stroke="#000" stroke-width="0.3">E</text>
<text x="275.10" y="367.70" font-size="9.30" text-anchor="middle" fill="#1a1a1a" stroke="#1a1a1a" stroke-width="0.22">KG1 <tspan font-style="italic">MDR1</tspan><tspan font-size="5.6" dy="-3.4">-/-</tspan><tspan dy="3.4"> </tspan>2.48</text>
<line x1="210.10" y1="374.28" x2="210.10" y2="461.80" stroke="#151515" stroke-width="1.20" />
<line x1="209.50" y1="461.20" x2="339.20" y2="461.20" stroke="#151515" stroke-width="1.20" />
<line x1="206.80" y1="461.20" x2="210.10" y2="461.20" stroke="#151515" stroke-width="1.00" />
<text x="204.70" y="464.10" font-size="8.20" text-anchor="end" fill="#1a1a1a" stroke="#1a1a1a" stroke-width="0.22">0</text>
<line x1="206.80" y1="444.24" x2="210.10" y2="444.24" stroke="#151515" stroke-width="1.00" />
<text x="204.70" y="447.14" font-size="8.20" text-anchor="end" fill="#1a1a1a" stroke="#1a1a1a" stroke-width="0.22">20</text>
<line x1="206.80" y1="427.28" x2="210.10" y2="427.28" stroke="#151515" stroke-width="1.00" />
<text x="204.70" y="430.18" font-size="8.20" text-anchor="end" fill="#1a1a1a" stroke="#1a1a1a" stroke-width="0.22">40</text>
<line x1="206.80" y1="410.32" x2="210.10" y2="410.32" stroke="#151515" stroke-width="1.00" />
<text x="204.70" y="413.22" font-size="8.20" text-anchor="end" fill="#1a1a1a" stroke="#1a1a1a" stroke-width="0.22">60</text>
<line x1="206.80" y1="393.36" x2="210.10" y2="393.36" stroke="#151515" stroke-width="1.00" />
<text x="204.70" y="396.26" font-size="8.20" text-anchor="end" fill="#1a1a1a" stroke="#1a1a1a" stroke-width="0.22">80</text>
<line x1="206.80" y1="376.40" x2="210.10" y2="376.40" stroke="#151515" stroke-width="1.00" />
<text x="204.70" y="379.30" font-size="8.20" text-anchor="end" fill="#1a1a1a" stroke="#1a1a1a" stroke-width="0.22">100</text>
<line x1="210.10" y1="461.20" x2="210.10" y2="464.00" stroke="#151515" stroke-width="1.00" />
<text x="210.10" y="473.60" font-size="8.20" text-anchor="middle" fill="#1a1a1a" stroke="#1a1a1a" stroke-width="0.22">0</text>
<line x1="235.80" y1="461.20" x2="235.80" y2="464.00" stroke="#151515" stroke-width="1.00" />
<text x="235.80" y="473.60" font-size="8.20" text-anchor="middle" fill="#1a1a1a" stroke="#1a1a1a" stroke-width="0.22">0.5</text>
<line x1="261.50" y1="461.20" x2="261.50" y2="464.00" stroke="#151515" stroke-width="1.00" />
<text x="261.50" y="473.60" font-size="8.20" text-anchor="middle" fill="#1a1a1a" stroke="#1a1a1a" stroke-width="0.22">1.0</text>
<line x1="287.20" y1="461.20" x2="287.20" y2="464.00" stroke="#151515" stroke-width="1.00" />
<text x="287.20" y="473.60" font-size="8.20" text-anchor="middle" fill="#1a1a1a" stroke="#1a1a1a" stroke-width="0.22">1.5</text>
<line x1="312.90" y1="461.20" x2="312.90" y2="464.00" stroke="#151515" stroke-width="1.00" />
<text x="312.90" y="473.60" font-size="8.20" text-anchor="middle" fill="#1a1a1a" stroke="#1a1a1a" stroke-width="0.22">2.0</text>
<line x1="338.60" y1="461.20" x2="338.60" y2="464.00" stroke="#151515" stroke-width="1.00" />
<text x="338.60" y="473.60" font-size="8.20" text-anchor="middle" fill="#1a1a1a" stroke="#1a1a1a" stroke-width="0.22">2.5</text>
<text x="0.00" y="0.00" font-size="9.00" text-anchor="middle" fill="#1a1a1a" stroke="#1a1a1a" stroke-width="0.27" transform="translate(275.89 486.00) scale(0.800 1)">Bir (μM)</text>
<text x="0.00" y="0.00" font-size="9.60" text-anchor="middle" fill="#1a1a1a" stroke="#1a1a1a" stroke-width="0.32" transform="translate(185.40 417.00) rotate(-90.00) scale(0.690 1)">% cell survival</text>
<polyline points="210.10,405.23 214.21,438.30 230.66,444.66 312.90,441.70" fill="none" stroke="#a8022e" stroke-width="1.5" stroke-dasharray="3.2 2.2"/>
<line x1="210.10" y1="407.78" x2="210.10" y2="402.69" stroke="#a8022e" stroke-width="0.80" />
<line x1="208.50" y1="402.69" x2="211.70" y2="402.69" stroke="#a8022e" stroke-width="0.80" />
<line x1="208.50" y1="407.78" x2="211.70" y2="407.78" stroke="#a8022e" stroke-width="0.80" />
<circle cx="210.10" cy="405.23" r="2.30" fill="#a8022e" stroke="none" stroke-width="1.00" />
<line x1="214.21" y1="440.85" x2="214.21" y2="435.76" stroke="#a8022e" stroke-width="0.80" />
<line x1="212.61" y1="435.76" x2="215.81" y2="435.76" stroke="#a8022e" stroke-width="0.80" />
<line x1="212.61" y1="440.85" x2="215.81" y2="440.85" stroke="#a8022e" stroke-width="0.80" />
<circle cx="214.21" cy="438.30" r="2.30" fill="#a8022e" stroke="none" stroke-width="1.00" />
<line x1="230.66" y1="448.06" x2="230.66" y2="441.27" stroke="#a8022e" stroke-width="0.80" />
<line x1="229.06" y1="441.27" x2="232.26" y2="441.27" stroke="#a8022e" stroke-width="0.80" />
<line x1="229.06" y1="448.06" x2="232.26" y2="448.06" stroke="#a8022e" stroke-width="0.80" />
<circle cx="230.66" cy="444.66" r="2.30" fill="#a8022e" stroke="none" stroke-width="1.00" />
<line x1="312.90" y1="444.24" x2="312.90" y2="439.15" stroke="#a8022e" stroke-width="0.80" />
<line x1="311.30" y1="439.15" x2="314.50" y2="439.15" stroke="#a8022e" stroke-width="0.80" />
<line x1="311.30" y1="444.24" x2="314.50" y2="444.24" stroke="#a8022e" stroke-width="0.80" />
<circle cx="312.90" cy="441.70" r="2.30" fill="#a8022e" stroke="none" stroke-width="1.00" />
<polyline points="210.10,389.12 214.21,430.67 230.66,440.00 312.90,434.91" fill="none" stroke="#66ab3e" stroke-width="1.5" stroke-dasharray="3.2 2.2"/>
<line x1="210.10" y1="390.82" x2="210.10" y2="387.42" stroke="#66ab3e" stroke-width="0.80" />
<line x1="208.50" y1="387.42" x2="211.70" y2="387.42" stroke="#66ab3e" stroke-width="0.80" />
<line x1="208.50" y1="390.82" x2="211.70" y2="390.82" stroke="#66ab3e" stroke-width="0.80" />
<path d="M210.10 391.52 L207.70 387.32 L212.50 387.32 Z" fill="#66ab3e"/>
<line x1="214.21" y1="433.22" x2="214.21" y2="428.13" stroke="#66ab3e" stroke-width="0.80" />
<line x1="212.61" y1="428.13" x2="215.81" y2="428.13" stroke="#66ab3e" stroke-width="0.80" />
<line x1="212.61" y1="433.22" x2="215.81" y2="433.22" stroke="#66ab3e" stroke-width="0.80" />
<path d="M214.21 433.07 L211.81 428.87 L216.61 428.87 Z" fill="#66ab3e"/>
<line x1="230.66" y1="442.54" x2="230.66" y2="437.46" stroke="#66ab3e" stroke-width="0.80" />
<line x1="229.06" y1="437.46" x2="232.26" y2="437.46" stroke="#66ab3e" stroke-width="0.80" />
<line x1="229.06" y1="442.54" x2="232.26" y2="442.54" stroke="#66ab3e" stroke-width="0.80" />
<path d="M230.66 442.40 L228.26 438.20 L233.06 438.20 Z" fill="#66ab3e"/>
<line x1="312.90" y1="436.61" x2="312.90" y2="433.22" stroke="#66ab3e" stroke-width="0.80" />
<line x1="311.30" y1="433.22" x2="314.50" y2="433.22" stroke="#66ab3e" stroke-width="0.80" />
<line x1="311.30" y1="436.61" x2="314.50" y2="436.61" stroke="#66ab3e" stroke-width="0.80" />
<path d="M312.90 437.31 L310.50 433.11 L315.30 433.11 Z" fill="#66ab3e"/>
<polyline points="210.10,388.27 214.21,429.82 230.66,439.58 312.90,434.06" fill="none" stroke="#66ab3e" stroke-width="1.5"/>
<line x1="210.10" y1="389.97" x2="210.10" y2="386.58" stroke="#66ab3e" stroke-width="0.80" />
<line x1="208.50" y1="386.58" x2="211.70" y2="386.58" stroke="#66ab3e" stroke-width="0.80" />
<line x1="208.50" y1="389.97" x2="211.70" y2="389.97" stroke="#66ab3e" stroke-width="0.80" />
<path d="M210.10 385.87 L207.70 390.07 L212.50 390.07 Z" fill="#66ab3e"/>
<line x1="214.21" y1="432.37" x2="214.21" y2="427.28" stroke="#66ab3e" stroke-width="0.80" />
<line x1="212.61" y1="427.28" x2="215.81" y2="427.28" stroke="#66ab3e" stroke-width="0.80" />
<line x1="212.61" y1="432.37" x2="215.81" y2="432.37" stroke="#66ab3e" stroke-width="0.80" />
<path d="M214.21 427.42 L211.81 431.62 L216.61 431.62 Z" fill="#66ab3e"/>
<line x1="230.66" y1="442.12" x2="230.66" y2="437.03" stroke="#66ab3e" stroke-width="0.80" />
<line x1="229.06" y1="437.03" x2="232.26" y2="437.03" stroke="#66ab3e" stroke-width="0.80" />
<line x1="229.06" y1="442.12" x2="232.26" y2="442.12" stroke="#66ab3e" stroke-width="0.80" />
<path d="M230.66 437.18 L228.26 441.38 L233.06 441.38 Z" fill="#66ab3e"/>
<line x1="312.90" y1="435.76" x2="312.90" y2="432.37" stroke="#66ab3e" stroke-width="0.80" />
<line x1="311.30" y1="432.37" x2="314.50" y2="432.37" stroke="#66ab3e" stroke-width="0.80" />
<line x1="311.30" y1="435.76" x2="314.50" y2="435.76" stroke="#66ab3e" stroke-width="0.80" />
<path d="M312.90 431.66 L310.50 435.86 L315.30 435.86 Z" fill="#66ab3e"/>
<polyline points="210.10,389.97 214.21,431.52 230.66,440.85 312.90,437.03" fill="none" stroke="#a8022e" stroke-width="1.5"/>
<line x1="210.10" y1="391.66" x2="210.10" y2="388.27" stroke="#a8022e" stroke-width="0.80" />
<line x1="208.50" y1="388.27" x2="211.70" y2="388.27" stroke="#a8022e" stroke-width="0.80" />
<line x1="208.50" y1="391.66" x2="211.70" y2="391.66" stroke="#a8022e" stroke-width="0.80" />
<rect x="207.90" y="387.77" width="4.40" height="4.40" fill="#a8022e" stroke="none" stroke-width="1.00" />
<line x1="214.21" y1="434.06" x2="214.21" y2="428.98" stroke="#a8022e" stroke-width="0.80" />
<line x1="212.61" y1="428.98" x2="215.81" y2="428.98" stroke="#a8022e" stroke-width="0.80" />
<line x1="212.61" y1="434.06" x2="215.81" y2="434.06" stroke="#a8022e" stroke-width="0.80" />
<rect x="212.01" y="429.32" width="4.40" height="4.40" fill="#a8022e" stroke="none" stroke-width="1.00" />
<line x1="230.66" y1="443.39" x2="230.66" y2="438.30" stroke="#a8022e" stroke-width="0.80" />
<line x1="229.06" y1="438.30" x2="232.26" y2="438.30" stroke="#a8022e" stroke-width="0.80" />
<line x1="229.06" y1="443.39" x2="232.26" y2="443.39" stroke="#a8022e" stroke-width="0.80" />
<rect x="228.46" y="438.65" width="4.40" height="4.40" fill="#a8022e" stroke="none" stroke-width="1.00" />
<line x1="312.90" y1="438.73" x2="312.90" y2="435.34" stroke="#a8022e" stroke-width="0.80" />
<line x1="311.30" y1="435.34" x2="314.50" y2="435.34" stroke="#a8022e" stroke-width="0.80" />
<line x1="311.30" y1="438.73" x2="314.50" y2="438.73" stroke="#a8022e" stroke-width="0.80" />
<rect x="310.70" y="434.83" width="4.40" height="4.40" fill="#a8022e" stroke="none" stroke-width="1.00" />
<polyline points="210.10,387.85 214.21,428.13 230.66,438.30 312.90,431.94" fill="none" stroke="#4b5266" stroke-width="1.5"/>
<line x1="210.10" y1="389.54" x2="210.10" y2="386.15" stroke="#4b5266" stroke-width="0.80" />
<line x1="208.50" y1="386.15" x2="211.70" y2="386.15" stroke="#4b5266" stroke-width="0.80" />
<line x1="208.50" y1="389.54" x2="211.70" y2="389.54" stroke="#4b5266" stroke-width="0.80" />
<circle cx="210.10" cy="387.85" r="2.30" fill="#4b5266" stroke="none" stroke-width="1.00" />
<line x1="214.21" y1="434.06" x2="214.21" y2="422.19" stroke="#4b5266" stroke-width="0.80" />
<line x1="212.61" y1="422.19" x2="215.81" y2="422.19" stroke="#4b5266" stroke-width="0.80" />
<line x1="212.61" y1="434.06" x2="215.81" y2="434.06" stroke="#4b5266" stroke-width="0.80" />
<circle cx="214.21" cy="428.13" r="2.30" fill="#4b5266" stroke="none" stroke-width="1.00" />
<line x1="230.66" y1="440.85" x2="230.66" y2="435.76" stroke="#4b5266" stroke-width="0.80" />
<line x1="229.06" y1="435.76" x2="232.26" y2="435.76" stroke="#4b5266" stroke-width="0.80" />
<line x1="229.06" y1="440.85" x2="232.26" y2="440.85" stroke="#4b5266" stroke-width="0.80" />
<circle cx="230.66" cy="438.30" r="2.30" fill="#4b5266" stroke="none" stroke-width="1.00" />
<line x1="312.90" y1="432.79" x2="312.90" y2="431.10" stroke="#4b5266" stroke-width="0.80" />
<line x1="311.30" y1="431.10" x2="314.50" y2="431.10" stroke="#4b5266" stroke-width="0.80" />
<line x1="311.30" y1="432.79" x2="314.50" y2="432.79" stroke="#4b5266" stroke-width="0.80" />
<circle cx="312.90" cy="431.94" r="2.30" fill="#4b5266" stroke="none" stroke-width="1.00" />
<line x1="214.38" y1="406.50" x2="216.58" y2="406.50" stroke="#a8022e" stroke-width="0.45" />
<line x1="214.93" y1="405.55" x2="216.03" y2="407.46" stroke="#a8022e" stroke-width="0.45" />
<line x1="216.03" y1="405.55" x2="214.93" y2="407.46" stroke="#a8022e" stroke-width="0.45" />
<line x1="216.98" y1="406.50" x2="219.18" y2="406.50" stroke="#a8022e" stroke-width="0.45" />
<line x1="217.53" y1="405.55" x2="218.63" y2="407.46" stroke="#a8022e" stroke-width="0.45" />
<line x1="218.63" y1="405.55" x2="217.53" y2="407.46" stroke="#a8022e" stroke-width="0.45" />
<line x1="213.78" y1="408.50" x2="219.78" y2="408.50" stroke="#a8022e" stroke-width="0.55" />
<line x1="229.56" y1="449.33" x2="231.76" y2="449.33" stroke="#a8022e" stroke-width="0.45" />
<line x1="230.11" y1="448.38" x2="231.21" y2="450.28" stroke="#a8022e" stroke-width="0.45" />
<line x1="231.21" y1="448.38" x2="230.11" y2="450.28" stroke="#a8022e" stroke-width="0.45" />
<line x1="310.50" y1="445.94" x2="312.70" y2="445.94" stroke="#a8022e" stroke-width="0.45" />
<line x1="311.05" y1="444.98" x2="312.15" y2="446.89" stroke="#a8022e" stroke-width="0.45" />
<line x1="312.15" y1="444.98" x2="311.05" y2="446.89" stroke="#a8022e" stroke-width="0.45" />
<line x1="313.10" y1="445.94" x2="315.30" y2="445.94" stroke="#a8022e" stroke-width="0.45" />
<line x1="313.65" y1="444.98" x2="314.75" y2="446.89" stroke="#a8022e" stroke-width="0.45" />
<line x1="314.75" y1="444.98" x2="313.65" y2="446.89" stroke="#a8022e" stroke-width="0.45" />
<text x="216.60" y="446.60" font-size="6.50" text-anchor="middle" fill="#a8022e" stroke="#a8022e" stroke-width="0.22">n.s</text>
<text x="347.00" y="357.00" font-size="11.20" text-anchor="start" fill="#000" font-weight="bold" stroke="#000" stroke-width="0.3">F</text>
<text x="444.90" y="367.70" font-size="9.30" text-anchor="middle" fill="#1a1a1a" stroke="#1a1a1a" stroke-width="0.22">KG1 <tspan font-style="italic">MDR1</tspan><tspan font-size="5.6" dy="-3.4">-/-</tspan><tspan dy="3.4"> </tspan>3.30</text>
<line x1="379.90" y1="374.28" x2="379.90" y2="461.80" stroke="#151515" stroke-width="1.20" />
<line x1="379.30" y1="461.20" x2="509.00" y2="461.20" stroke="#151515" stroke-width="1.20" />
<line x1="376.60" y1="461.20" x2="379.90" y2="461.20" stroke="#151515" stroke-width="1.00" />
<text x="374.50" y="464.10" font-size="8.20" text-anchor="end" fill="#1a1a1a" stroke="#1a1a1a" stroke-width="0.22">0</text>
<line x1="376.60" y1="444.24" x2="379.90" y2="444.24" stroke="#151515" stroke-width="1.00" />
<text x="374.50" y="447.14" font-size="8.20" text-anchor="end" fill="#1a1a1a" stroke="#1a1a1a" stroke-width="0.22">20</text>
<line x1="376.60" y1="427.28" x2="379.90" y2="427.28" stroke="#151515" stroke-width="1.00" />
<text x="374.50" y="430.18" font-size="8.20" text-anchor="end" fill="#1a1a1a" stroke="#1a1a1a" stroke-width="0.22">40</text>
<line x1="376.60" y1="410.32" x2="379.90" y2="410.32" stroke="#151515" stroke-width="1.00" />
<text x="374.50" y="413.22" font-size="8.20" text-anchor="end" fill="#1a1a1a" stroke="#1a1a1a" stroke-width="0.22">60</text>
<line x1="376.60" y1="393.36" x2="379.90" y2="393.36" stroke="#151515" stroke-width="1.00" />
<text x="374.50" y="396.26" font-size="8.20" text-anchor="end" fill="#1a1a1a" stroke="#1a1a1a" stroke-width="0.22">80</text>
<line x1="376.60" y1="376.40" x2="379.90" y2="376.40" stroke="#151515" stroke-width="1.00" />
<text x="374.50" y="379.30" font-size="8.20" text-anchor="end" fill="#1a1a1a" stroke="#1a1a1a" stroke-width="0.22">100</text>
<line x1="379.90" y1="461.20" x2="379.90" y2="464.00" stroke="#151515" stroke-width="1.00" />
<text x="379.90" y="473.60" font-size="8.20" text-anchor="middle" fill="#1a1a1a" stroke="#1a1a1a" stroke-width="0.22">0</text>
<line x1="405.60" y1="461.20" x2="405.60" y2="464.00" stroke="#151515" stroke-width="1.00" />
<text x="405.60" y="473.60" font-size="8.20" text-anchor="middle" fill="#1a1a1a" stroke="#1a1a1a" stroke-width="0.22">0.5</text>
<line x1="431.30" y1="461.20" x2="431.30" y2="464.00" stroke="#151515" stroke-width="1.00" />
<text x="431.30" y="473.60" font-size="8.20" text-anchor="middle" fill="#1a1a1a" stroke="#1a1a1a" stroke-width="0.22">1.0</text>
<line x1="457.00" y1="461.20" x2="457.00" y2="464.00" stroke="#151515" stroke-width="1.00" />
<text x="457.00" y="473.60" font-size="8.20" text-anchor="middle" fill="#1a1a1a" stroke="#1a1a1a" stroke-width="0.22">1.5</text>
<line x1="482.70" y1="461.20" x2="482.70" y2="464.00" stroke="#151515" stroke-width="1.00" />
<text x="482.70" y="473.60" font-size="8.20" text-anchor="middle" fill="#1a1a1a" stroke="#1a1a1a" stroke-width="0.22">2.0</text>
<line x1="508.40" y1="461.20" x2="508.40" y2="464.00" stroke="#151515" stroke-width="1.00" />
<text x="508.40" y="473.60" font-size="8.20" text-anchor="middle" fill="#1a1a1a" stroke="#1a1a1a" stroke-width="0.22">2.5</text>
<text x="0.00" y="0.00" font-size="9.00" text-anchor="middle" fill="#1a1a1a" stroke="#1a1a1a" stroke-width="0.27" transform="translate(445.69 486.00) scale(0.800 1)">Bir (μM)</text>
<text x="0.00" y="0.00" font-size="9.60" text-anchor="middle" fill="#1a1a1a" stroke="#1a1a1a" stroke-width="0.32" transform="translate(355.20 417.00) rotate(-90.00) scale(0.690 1)">% cell survival</text>
<polyline points="379.90,405.23 384.01,438.30 400.46,445.43 482.70,440.42" fill="none" stroke="#a8022e" stroke-width="1.5" stroke-dasharray="3.2 2.2"/>
<line x1="379.90" y1="407.78" x2="379.90" y2="402.69" stroke="#a8022e" stroke-width="0.80" />
<line x1="378.30" y1="402.69" x2="381.50" y2="402.69" stroke="#a8022e" stroke-width="0.80" />
<line x1="378.30" y1="407.78" x2="381.50" y2="407.78" stroke="#a8022e" stroke-width="0.80" />
<circle cx="379.90" cy="405.23" r="2.30" fill="#a8022e" stroke="none" stroke-width="1.00" />
<line x1="384.01" y1="441.70" x2="384.01" y2="434.91" stroke="#a8022e" stroke-width="0.80" />
<line x1="382.41" y1="434.91" x2="385.61" y2="434.91" stroke="#a8022e" stroke-width="0.80" />
<line x1="382.41" y1="441.70" x2="385.61" y2="441.70" stroke="#a8022e" stroke-width="0.80" />
<circle cx="384.01" cy="438.30" r="2.30" fill="#a8022e" stroke="none" stroke-width="1.00" />
<line x1="400.46" y1="447.12" x2="400.46" y2="443.73" stroke="#a8022e" stroke-width="0.80" />
<line x1="398.86" y1="443.73" x2="402.06" y2="443.73" stroke="#a8022e" stroke-width="0.80" />
<line x1="398.86" y1="447.12" x2="402.06" y2="447.12" stroke="#a8022e" stroke-width="0.80" />
<circle cx="400.46" cy="445.43" r="2.30" fill="#a8022e" stroke="none" stroke-width="1.00" />
<line x1="482.70" y1="441.27" x2="482.70" y2="439.58" stroke="#a8022e" stroke-width="0.80" />
<line x1="481.10" y1="439.58" x2="484.30" y2="439.58" stroke="#a8022e" stroke-width="0.80" />
<line x1="481.10" y1="441.27" x2="484.30" y2="441.27" stroke="#a8022e" stroke-width="0.80" />
<circle cx="482.70" cy="440.42" r="2.30" fill="#a8022e" stroke="none" stroke-width="1.00" />
<polyline points="379.90,389.12 384.01,427.28 400.46,438.30 482.70,431.52" fill="none" stroke="#66ab3e" stroke-width="1.5" stroke-dasharray="3.2 2.2"/>
<line x1="379.90" y1="389.97" x2="379.90" y2="388.27" stroke="#66ab3e" stroke-width="0.80" />
<line x1="378.30" y1="388.27" x2="381.50" y2="388.27" stroke="#66ab3e" stroke-width="0.80" />
<line x1="378.30" y1="389.97" x2="381.50" y2="389.97" stroke="#66ab3e" stroke-width="0.80" />
<path d="M379.90 391.52 L377.50 387.32 L382.30 387.32 Z" fill="#66ab3e"/>
<line x1="384.01" y1="429.82" x2="384.01" y2="424.74" stroke="#66ab3e" stroke-width="0.80" />
<line x1="382.41" y1="424.74" x2="385.61" y2="424.74" stroke="#66ab3e" stroke-width="0.80" />
<line x1="382.41" y1="429.82" x2="385.61" y2="429.82" stroke="#66ab3e" stroke-width="0.80" />
<path d="M384.01 429.68 L381.61 425.48 L386.41 425.48 Z" fill="#66ab3e"/>
<line x1="400.46" y1="440.00" x2="400.46" y2="436.61" stroke="#66ab3e" stroke-width="0.80" />
<line x1="398.86" y1="436.61" x2="402.06" y2="436.61" stroke="#66ab3e" stroke-width="0.80" />
<line x1="398.86" y1="440.00" x2="402.06" y2="440.00" stroke="#66ab3e" stroke-width="0.80" />
<path d="M400.46 440.70 L398.06 436.50 L402.86 436.50 Z" fill="#66ab3e"/>
<line x1="482.70" y1="433.22" x2="482.70" y2="429.82" stroke="#66ab3e" stroke-width="0.80" />
<line x1="481.10" y1="429.82" x2="484.30" y2="429.82" stroke="#66ab3e" stroke-width="0.80" />
<line x1="481.10" y1="433.22" x2="484.30" y2="433.22" stroke="#66ab3e" stroke-width="0.80" />
<path d="M482.70 433.92 L480.30 429.72 L485.10 429.72 Z" fill="#66ab3e"/>
<polyline points="379.90,388.27 384.01,426.43 400.46,438.81 482.70,430.67" fill="none" stroke="#66ab3e" stroke-width="1.5"/>
<line x1="379.90" y1="389.12" x2="379.90" y2="387.42" stroke="#66ab3e" stroke-width="0.80" />
<line x1="378.30" y1="387.42" x2="381.50" y2="387.42" stroke="#66ab3e" stroke-width="0.80" />
<line x1="378.30" y1="389.12" x2="381.50" y2="389.12" stroke="#66ab3e" stroke-width="0.80" />
<path d="M379.90 385.87 L377.50 390.07 L382.30 390.07 Z" fill="#66ab3e"/>
<line x1="384.01" y1="428.98" x2="384.01" y2="423.89" stroke="#66ab3e" stroke-width="0.80" />
<line x1="382.41" y1="423.89" x2="385.61" y2="423.89" stroke="#66ab3e" stroke-width="0.80" />
<line x1="382.41" y1="428.98" x2="385.61" y2="428.98" stroke="#66ab3e" stroke-width="0.80" />
<path d="M384.01 424.03 L381.61 428.23 L386.41 428.23 Z" fill="#66ab3e"/>
<line x1="400.46" y1="440.51" x2="400.46" y2="437.12" stroke="#66ab3e" stroke-width="0.80" />
<line x1="398.86" y1="437.12" x2="402.06" y2="437.12" stroke="#66ab3e" stroke-width="0.80" />
<line x1="398.86" y1="440.51" x2="402.06" y2="440.51" stroke="#66ab3e" stroke-width="0.80" />
<path d="M400.46 436.41 L398.06 440.61 L402.86 440.61 Z" fill="#66ab3e"/>
<line x1="482.70" y1="432.37" x2="482.70" y2="428.98" stroke="#66ab3e" stroke-width="0.80" />
<line x1="481.10" y1="428.98" x2="484.30" y2="428.98" stroke="#66ab3e" stroke-width="0.80" />
<line x1="481.10" y1="432.37" x2="484.30" y2="432.37" stroke="#66ab3e" stroke-width="0.80" />
<path d="M482.70 428.27 L480.30 432.47 L485.10 432.47 Z" fill="#66ab3e"/>
<polyline points="379.90,388.27 384.01,428.21 400.46,437.71 482.70,427.70" fill="none" stroke="#a8022e" stroke-width="1.5"/>
<line x1="379.90" y1="389.12" x2="379.90" y2="387.42" stroke="#a8022e" stroke-width="0.80" />
<line x1="378.30" y1="387.42" x2="381.50" y2="387.42" stroke="#a8022e" stroke-width="0.80" />
<line x1="378.30" y1="389.12" x2="381.50" y2="389.12" stroke="#a8022e" stroke-width="0.80" />
<rect x="377.70" y="386.07" width="4.40" height="4.40" fill="#a8022e" stroke="none" stroke-width="1.00" />
<line x1="384.01" y1="431.60" x2="384.01" y2="424.82" stroke="#a8022e" stroke-width="0.80" />
<line x1="382.41" y1="424.82" x2="385.61" y2="424.82" stroke="#a8022e" stroke-width="0.80" />
<line x1="382.41" y1="431.60" x2="385.61" y2="431.60" stroke="#a8022e" stroke-width="0.80" />
<rect x="381.81" y="426.01" width="4.40" height="4.40" fill="#a8022e" stroke="none" stroke-width="1.00" />
<line x1="400.46" y1="439.41" x2="400.46" y2="436.01" stroke="#a8022e" stroke-width="0.80" />
<line x1="398.86" y1="436.01" x2="402.06" y2="436.01" stroke="#a8022e" stroke-width="0.80" />
<line x1="398.86" y1="439.41" x2="402.06" y2="439.41" stroke="#a8022e" stroke-width="0.80" />
<rect x="398.26" y="435.51" width="4.40" height="4.40" fill="#a8022e" stroke="none" stroke-width="1.00" />
<line x1="482.70" y1="429.40" x2="482.70" y2="426.01" stroke="#a8022e" stroke-width="0.80" />
<line x1="481.10" y1="426.01" x2="484.30" y2="426.01" stroke="#a8022e" stroke-width="0.80" />
<line x1="481.10" y1="429.40" x2="484.30" y2="429.40" stroke="#a8022e" stroke-width="0.80" />
<rect x="480.50" y="425.50" width="4.40" height="4.40" fill="#a8022e" stroke="none" stroke-width="1.00" />
<polyline points="379.90,386.92 384.01,424.91 400.46,435.42 482.70,428.55" fill="none" stroke="#4b5266" stroke-width="1.5"/>
<line x1="379.90" y1="387.76" x2="379.90" y2="386.07" stroke="#4b5266" stroke-width="0.80" />
<line x1="378.30" y1="386.07" x2="381.50" y2="386.07" stroke="#4b5266" stroke-width="0.80" />
<line x1="378.30" y1="387.76" x2="381.50" y2="387.76" stroke="#4b5266" stroke-width="0.80" />
<circle cx="379.90" cy="386.92" r="2.30" fill="#4b5266" stroke="none" stroke-width="1.00" />
<line x1="384.01" y1="427.45" x2="384.01" y2="422.36" stroke="#4b5266" stroke-width="0.80" />
<line x1="382.41" y1="422.36" x2="385.61" y2="422.36" stroke="#4b5266" stroke-width="0.80" />
<line x1="382.41" y1="427.45" x2="385.61" y2="427.45" stroke="#4b5266" stroke-width="0.80" />
<circle cx="384.01" cy="424.91" r="2.30" fill="#4b5266" stroke="none" stroke-width="1.00" />
<line x1="400.46" y1="437.12" x2="400.46" y2="433.72" stroke="#4b5266" stroke-width="0.80" />
<line x1="398.86" y1="433.72" x2="402.06" y2="433.72" stroke="#4b5266" stroke-width="0.80" />
<line x1="398.86" y1="437.12" x2="402.06" y2="437.12" stroke="#4b5266" stroke-width="0.80" />
<circle cx="400.46" cy="435.42" r="2.30" fill="#4b5266" stroke="none" stroke-width="1.00" />
<line x1="482.70" y1="430.25" x2="482.70" y2="426.86" stroke="#4b5266" stroke-width="0.80" />
<line x1="481.10" y1="426.86" x2="484.30" y2="426.86" stroke="#4b5266" stroke-width="0.80" />
<line x1="481.10" y1="430.25" x2="484.30" y2="430.25" stroke="#4b5266" stroke-width="0.80" />
<circle cx="482.70" cy="428.55" r="2.30" fill="#4b5266" stroke="none" stroke-width="1.00" />
<line x1="382.88" y1="405.23" x2="385.08" y2="405.23" stroke="#a8022e" stroke-width="0.45" />
<line x1="383.43" y1="404.28" x2="384.53" y2="406.18" stroke="#a8022e" stroke-width="0.45" />
<line x1="384.53" y1="404.28" x2="383.43" y2="406.18" stroke="#a8022e" stroke-width="0.45" />
<line x1="385.48" y1="405.23" x2="387.68" y2="405.23" stroke="#a8022e" stroke-width="0.45" />
<line x1="386.03" y1="404.28" x2="387.13" y2="406.18" stroke="#a8022e" stroke-width="0.45" />
<line x1="387.13" y1="404.28" x2="386.03" y2="406.18" stroke="#a8022e" stroke-width="0.45" />
<line x1="388.08" y1="405.23" x2="390.28" y2="405.23" stroke="#a8022e" stroke-width="0.45" />
<line x1="388.63" y1="404.28" x2="389.73" y2="406.18" stroke="#a8022e" stroke-width="0.45" />
<line x1="389.73" y1="404.28" x2="388.63" y2="406.18" stroke="#a8022e" stroke-width="0.45" />
<line x1="382.28" y1="407.23" x2="390.88" y2="407.23" stroke="#a8022e" stroke-width="0.55" />
<line x1="381.61" y1="444.66" x2="383.81" y2="444.66" stroke="#a8022e" stroke-width="0.45" />
<line x1="382.16" y1="443.71" x2="383.26" y2="445.62" stroke="#a8022e" stroke-width="0.45" />
<line x1="383.26" y1="443.71" x2="382.16" y2="445.62" stroke="#a8022e" stroke-width="0.45" />
<line x1="384.21" y1="444.66" x2="386.41" y2="444.66" stroke="#a8022e" stroke-width="0.45" />
<line x1="384.76" y1="443.71" x2="385.86" y2="445.62" stroke="#a8022e" stroke-width="0.45" />
<line x1="385.86" y1="443.71" x2="384.76" y2="445.62" stroke="#a8022e" stroke-width="0.45" />
<line x1="381.01" y1="446.66" x2="387.01" y2="446.66" stroke="#a8022e" stroke-width="0.55" />
<line x1="382.91" y1="442.12" x2="385.11" y2="442.12" stroke="#a8022e" stroke-width="0.45" />
<line x1="383.46" y1="441.17" x2="384.56" y2="443.07" stroke="#a8022e" stroke-width="0.45" />
<line x1="384.56" y1="441.17" x2="383.46" y2="443.07" stroke="#a8022e" stroke-width="0.45" />
<line x1="398.06" y1="448.90" x2="400.26" y2="448.90" stroke="#a8022e" stroke-width="0.45" />
<line x1="398.61" y1="447.95" x2="399.71" y2="449.86" stroke="#a8022e" stroke-width="0.45" />
<line x1="399.71" y1="447.95" x2="398.61" y2="449.86" stroke="#a8022e" stroke-width="0.45" />
<line x1="400.66" y1="448.90" x2="402.86" y2="448.90" stroke="#a8022e" stroke-width="0.45" />
<line x1="401.21" y1="447.95" x2="402.31" y2="449.86" stroke="#a8022e" stroke-width="0.45" />
<line x1="402.31" y1="447.95" x2="401.21" y2="449.86" stroke="#a8022e" stroke-width="0.45" />
<line x1="479.00" y1="446.36" x2="481.20" y2="446.36" stroke="#a8022e" stroke-width="0.45" />
<line x1="479.55" y1="445.41" x2="480.65" y2="447.31" stroke="#a8022e" stroke-width="0.45" />
<line x1="480.65" y1="445.41" x2="479.55" y2="447.31" stroke="#a8022e" stroke-width="0.45" />
<line x1="481.60" y1="446.36" x2="483.80" y2="446.36" stroke="#a8022e" stroke-width="0.45" />
<line x1="482.15" y1="445.41" x2="483.25" y2="447.31" stroke="#a8022e" stroke-width="0.45" />
<line x1="483.25" y1="445.41" x2="482.15" y2="447.31" stroke="#a8022e" stroke-width="0.45" />
<line x1="484.20" y1="446.36" x2="486.40" y2="446.36" stroke="#a8022e" stroke-width="0.45" />
<line x1="484.75" y1="445.41" x2="485.85" y2="447.31" stroke="#a8022e" stroke-width="0.45" />
<line x1="485.85" y1="445.41" x2="484.75" y2="447.31" stroke="#a8022e" stroke-width="0.45" />
<line x1="478.40" y1="448.36" x2="487.00" y2="448.36" stroke="#a8022e" stroke-width="0.55" />
<line x1="94.00" y1="502.80" x2="114.80" y2="502.80" stroke="#4b5266" stroke-width="1.5"/>
<circle cx="104.90" cy="502.80" r="2.30" fill="#4b5266" stroke="none" stroke-width="1.00" />
<text x="118.40" y="505.20" font-size="7.10" text-anchor="start" fill="#1a1a1a" stroke="#1a1a1a" stroke-width="0.22">Control</text>
<line x1="150.20" y1="502.80" x2="171.60" y2="502.80" stroke="#a8022e" stroke-width="1.5"/>
<rect x="158.60" y="500.60" width="4.40" height="4.40" fill="#a8022e" stroke="none" stroke-width="1.00" />
<text x="175.00" y="505.20" font-size="7.10" text-anchor="start" fill="#1a1a1a" stroke="#1a1a1a" stroke-width="0.22">+ Tari 0.5 μM (<tspan font-style="italic" fill="#a8022e">P</tspan>)</text>
<line x1="230.60" y1="502.80" x2="251.80" y2="502.80" stroke="#a8022e" stroke-width="1.5" stroke-dasharray="3 2.2"/>
<circle cx="240.90" cy="502.80" r="2.30" fill="#a8022e" stroke="none" stroke-width="1.00" />
<text x="253.50" y="505.20" font-size="7.10" text-anchor="start" fill="#1a1a1a" stroke="#1a1a1a" stroke-width="0.22">+ Tari 1 μM (<tspan font-style="italic" fill="#fff" stroke="#a8022e" stroke-width="0.5">P</tspan>)</text>
<line x1="303.60" y1="502.80" x2="324.40" y2="502.80" stroke="#66ab3e" stroke-width="1.5"/>
<path d="M314.00 500.40 L311.60 504.60 L316.40 504.60 Z" fill="#66ab3e"/>
<text x="327.60" y="505.20" font-size="7.10" text-anchor="start" fill="#1a1a1a" stroke="#1a1a1a" stroke-width="0.22">+ Zosu 0.5 μM (<tspan font-style="italic" fill="#66ab3e">P</tspan>)</text>
<line x1="388.00" y1="502.80" x2="409.00" y2="502.80" stroke="#66ab3e" stroke-width="1.5" stroke-dasharray="3 2.2"/>
<path d="M398.50 505.20 L396.10 501.00 L400.90 501.00 Z" fill="#66ab3e"/>
<text x="412.00" y="505.20" font-size="7.10" text-anchor="start" fill="#1a1a1a" stroke="#1a1a1a" stroke-width="0.22">+ Zosu 1 μM (<tspan font-style="italic" fill="#fff" stroke="#66ab3e" stroke-width="0.5">P</tspan>)</text>
<text x="6.40" y="526.00" font-size="11.60" text-anchor="start" fill="#000" font-weight="bold" stroke="#000" stroke-width="0.3">G</text>
<text x="99.50" y="538.70" font-size="7.90" text-anchor="middle" fill="#1a1a1a" stroke="#1a1a1a" stroke-width="0.22">KG1 Control 4B</text>
<line x1="57.10" y1="543.40" x2="138.00" y2="543.40" stroke="#151515" stroke-width="1.00" />
<line x1="58.00" y1="558.10" x2="71.40" y2="558.10" stroke="#151515" stroke-width="1.00" />
<text x="64.70" y="552.90" font-size="7.60" text-anchor="middle" fill="#1a1a1a" stroke="#1a1a1a" stroke-width="0.22">Ctrl</text>
<line x1="74.10" y1="558.10" x2="103.20" y2="558.10" stroke="#151515" stroke-width="1.00" />
<text x="88.65" y="552.90" font-size="7.60" text-anchor="middle" fill="#1a1a1a" stroke="#1a1a1a" stroke-width="0.22">Bir</text>
<line x1="105.70" y1="558.10" x2="135.90" y2="558.10" stroke="#151515" stroke-width="1.00" />
<text x="120.80" y="552.90" font-size="7.60" text-anchor="middle" fill="#1a1a1a" stroke="#1a1a1a" stroke-width="0.22">Bir + Tari</text>
<text x="64.70" y="567.30" font-size="7.90" text-anchor="middle" fill="#1a1a1a" stroke="#1a1a1a" stroke-width="0.22">20</text>
<text x="80.50" y="567.30" font-size="7.90" text-anchor="middle" fill="#1a1a1a" stroke="#1a1a1a" stroke-width="0.22">10</text>
<text x="96.30" y="567.30" font-size="7.90" text-anchor="middle" fill="#1a1a1a" stroke="#1a1a1a" stroke-width="0.22">20</text>
<text x="112.10" y="567.30" font-size="7.90" text-anchor="middle" fill="#1a1a1a" stroke="#1a1a1a" stroke-width="0.22">10</text>
<text x="127.90" y="567.30" font-size="7.90" text-anchor="middle" fill="#1a1a1a" stroke="#1a1a1a" stroke-width="0.22">20</text>
<text x="192.70" y="538.70" font-size="7.90" text-anchor="middle" fill="#1a1a1a" stroke="#1a1a1a" stroke-width="0.22">KG1 <tspan font-style="italic">MDR1</tspan><tspan font-size="4.9" dy="-3.0">-/-</tspan><tspan dy="3.0"> </tspan>3.30</text>
<line x1="150.00" y1="543.40" x2="231.00" y2="543.40" stroke="#151515" stroke-width="1.00" />
<line x1="152.50" y1="558.10" x2="164.60" y2="558.10" stroke="#151515" stroke-width="1.00" />
<text x="158.55" y="552.90" font-size="7.60" text-anchor="middle" fill="#1a1a1a" stroke="#1a1a1a" stroke-width="0.22">Ctrl</text>
<line x1="168.50" y1="558.10" x2="197.70" y2="558.10" stroke="#151515" stroke-width="1.00" />
<text x="183.10" y="552.90" font-size="7.60" text-anchor="middle" fill="#1a1a1a" stroke="#1a1a1a" stroke-width="0.22">Bir</text>
<line x1="201.50" y1="558.10" x2="231.30" y2="558.10" stroke="#151515" stroke-width="1.00" />
<text x="216.40" y="552.90" font-size="7.60" text-anchor="middle" fill="#1a1a1a" stroke="#1a1a1a" stroke-width="0.22">Bir + Tari</text>
<text x="159.20" y="567.30" font-size="7.90" text-anchor="middle" fill="#1a1a1a" stroke="#1a1a1a" stroke-width="0.22">20</text>
<text x="175.10" y="567.30" font-size="7.90" text-anchor="middle" fill="#1a1a1a" stroke="#1a1a1a" stroke-width="0.22">10</text>
<text x="191.00" y="567.30" font-size="7.90" text-anchor="middle" fill="#1a1a1a" stroke="#1a1a1a" stroke-width="0.22">20</text>
<text x="206.90" y="567.30" font-size="7.90" text-anchor="middle" fill="#1a1a1a" stroke="#1a1a1a" stroke-width="0.22">10</text>
<text x="222.80" y="567.30" font-size="7.90" text-anchor="middle" fill="#1a1a1a" stroke="#1a1a1a" stroke-width="0.22">20</text>
<text x="289.20" y="538.70" font-size="7.90" text-anchor="middle" fill="#1a1a1a" stroke="#1a1a1a" stroke-width="0.22">KG1 <tspan font-style="italic">MDR1</tspan><tspan font-size="4.9" dy="-3.0">-/-</tspan><tspan dy="3.0"> </tspan>2.48</text>
<line x1="246.00" y1="543.40" x2="328.00" y2="543.40" stroke="#151515" stroke-width="1.00" />
<line x1="248.00" y1="558.10" x2="260.40" y2="558.10" stroke="#151515" stroke-width="1.00" />
<text x="254.20" y="552.90" font-size="7.60" text-anchor="middle" fill="#1a1a1a" stroke="#1a1a1a" stroke-width="0.22">Ctrl</text>
<line x1="262.50" y1="558.10" x2="292.00" y2="558.10" stroke="#151515" stroke-width="1.00" />
<text x="277.25" y="552.90" font-size="7.60" text-anchor="middle" fill="#1a1a1a" stroke="#1a1a1a" stroke-width="0.22">Bir</text>
<line x1="294.60" y1="558.10" x2="324.90" y2="558.10" stroke="#151515" stroke-width="1.00" />
<text x="309.75" y="552.90" font-size="7.60" text-anchor="middle" fill="#1a1a1a" stroke="#1a1a1a" stroke-width="0.22">Bir + Tari</text>
<text x="254.20" y="567.30" font-size="7.90" text-anchor="middle" fill="#1a1a1a" stroke="#1a1a1a" stroke-width="0.22">20</text>
<text x="270.20" y="567.30" font-size="7.90" text-anchor="middle" fill="#1a1a1a" stroke="#1a1a1a" stroke-width="0.22">10</text>
<text x="286.20" y="567.30" font-size="7.90" text-anchor="middle" fill="#1a1a1a" stroke="#1a1a1a" stroke-width="0.22">20</text>
<text x="302.20" y="567.30" font-size="7.90" text-anchor="middle" fill="#1a1a1a" stroke="#1a1a1a" stroke-width="0.22">10</text>
<text x="318.20" y="567.30" font-size="7.90" text-anchor="middle" fill="#1a1a1a" stroke="#1a1a1a" stroke-width="0.22">20</text>
<text x="17.50" y="567.60" font-size="7.90" text-anchor="start" fill="#1a1a1a" stroke="#1a1a1a" stroke-width="0.22">Minutes</text>
<text x="330.70" y="567.60" font-size="7.90" text-anchor="start" fill="#1a1a1a" stroke="#1a1a1a" stroke-width="0.22">kDa</text>
<rect x="47.80" y="573.30" width="282.20" height="87.30" fill="#8a8a8a" stroke="none" stroke-width="1.00" />
<rect x="48.35" y="573.85" width="281.10" height="19.80" fill="#efefef" stroke="#1c1c1c" stroke-width="1.10" rx="0.6"/>
<rect x="48.35" y="596.85" width="281.10" height="42.80" fill="#efefef" stroke="#1c1c1c" stroke-width="1.10" rx="0.6"/>
<rect x="48.35" y="642.85" width="281.10" height="17.20" fill="#efefef" stroke="#1c1c1c" stroke-width="1.10" rx="0.6"/>
<clipPath id="cG0"><rect x="48.90" y="574.40" width="280.00" height="18.70"/></clipPath>
<clipPath id="cG1"><rect x="48.90" y="597.40" width="280.00" height="41.70"/></clipPath>
<clipPath id="cG2"><rect x="48.90" y="643.40" width="280.00" height="16.10"/></clipPath>
<g clip-path="url(#cG0)">
<linearGradient id="sg4" gradientUnits="userSpaceOnUse" x1="0" y1="574.00" x2="0" y2="593.00"><stop offset="0.0000" stop-color="#000" stop-opacity="0.020"/><stop offset="0.1053" stop-color="#000" stop-opacity="0.168"/><stop offset="0.2105" stop-color="#000" stop-opacity="0.288"/><stop offset="0.3158" stop-color="#000" stop-opacity="0.192"/><stop offset="0.4211" stop-color="#000" stop-opacity="0.288"/><stop offset="0.7632" stop-color="#000" stop-opacity="0.240"/><stop offset="0.8684" stop-color="#000" stop-opacity="0.050"/><stop offset="1.0000" stop-color="#000" stop-opacity="0.000"/></linearGradient>
<rect x="57.60" y="572.00" width="14.20" height="23.00" fill="url(#sg4)" filter="url(#bh)"/>
<rect x="57.80" y="582.90" width="13.80" height="6.00" rx="2.40" fill="#000" opacity="1.00" filter="url(#b06)"/>
<linearGradient id="sg5" gradientUnits="userSpaceOnUse" x1="0" y1="574.00" x2="0" y2="593.00"><stop offset="0.0000" stop-color="#000" stop-opacity="0.020"/><stop offset="0.1053" stop-color="#000" stop-opacity="0.168"/><stop offset="0.2105" stop-color="#000" stop-opacity="0.288"/><stop offset="0.3158" stop-color="#000" stop-opacity="0.192"/><stop offset="0.4211" stop-color="#000" stop-opacity="0.288"/><stop offset="0.7632" stop-color="#000" stop-opacity="0.240"/><stop offset="0.8684" stop-color="#000" stop-opacity="0.050"/><stop offset="1.0000" stop-color="#000" stop-opacity="0.000"/></linearGradient>
<rect x="73.40" y="572.00" width="14.20" height="23.00" fill="url(#sg5)" filter="url(#bh)"/>
<rect x="73.60" y="582.90" width="13.80" height="6.00" rx="2.40" fill="#000" opacity="0.95" filter="url(#b06)"/>
<linearGradient id="sg6" gradientUnits="userSpaceOnUse" x1="0" y1="574.00" x2="0" y2="593.00"><stop offset="0.0000" stop-color="#000" stop-opacity="0.020"/><stop offset="0.1053" stop-color="#000" stop-opacity="0.157"/><stop offset="0.2105" stop-color="#000" stop-opacity="0.269"/><stop offset="0.3158" stop-color="#000" stop-opacity="0.179"/><stop offset="0.4211" stop-color="#000" stop-opacity="0.269"/><stop offset="0.7632" stop-color="#000" stop-opacity="0.224"/><stop offset="0.8684" stop-color="#000" stop-opacity="0.050"/><stop offset="1.0000" stop-color="#000" stop-opacity="0.000"/></linearGradient>
<rect x="89.20" y="572.00" width="14.20" height="23.00" fill="url(#sg6)" filter="url(#bh)"/>
<rect x="89.40" y="582.90" width="13.80" height="6.00" rx="2.40" fill="#000" opacity="0.80" filter="url(#b06)"/>
<linearGradient id="sg7" gradientUnits="userSpaceOnUse" x1="0" y1="574.00" x2="0" y2="593.00"><stop offset="0.0000" stop-color="#000" stop-opacity="0.020"/><stop offset="0.1053" stop-color="#000" stop-opacity="0.157"/><stop offset="0.2105" stop-color="#000" stop-opacity="0.269"/><stop offset="0.3158" stop-color="#000" stop-opacity="0.179"/><stop offset="0.4211" stop-color="#000" stop-opacity="0.269"/><stop offset="0.7632" stop-color="#000" stop-opacity="0.224"/><stop offset="0.8684" stop-color="#000" stop-opacity="0.050"/><stop offset="1.0000" stop-color="#000" stop-opacity="0.000"/></linearGradient>
<rect x="105.00" y="572.00" width="14.20" height="23.00" fill="url(#sg7)" filter="url(#bh)"/>
<rect x="105.20" y="582.90" width="13.80" height="6.00" rx="2.40" fill="#000" opacity="0.55" filter="url(#b06)"/>
<linearGradient id="sg8" gradientUnits="userSpaceOnUse" x1="0" y1="574.00" x2="0" y2="593.00"><stop offset="0.0000" stop-color="#000" stop-opacity="0.020"/><stop offset="0.1053" stop-color="#000" stop-opacity="0.123"/><stop offset="0.2105" stop-color="#000" stop-opacity="0.211"/><stop offset="0.3158" stop-color="#000" stop-opacity="0.141"/><stop offset="0.4211" stop-color="#000" stop-opacity="0.211"/><stop offset="0.7632" stop-color="#000" stop-opacity="0.176"/><stop offset="0.8684" stop-color="#000" stop-opacity="0.050"/><stop offset="1.0000" stop-color="#000" stop-opacity="0.000"/></linearGradient>
<rect x="120.80" y="572.00" width="14.20" height="23.00" fill="url(#sg8)" filter="url(#bh)"/>
<rect x="121.00" y="582.90" width="13.80" height="6.00" rx="2.40" fill="#000" opacity="0.30" filter="url(#b06)"/>
<linearGradient id="sg9" gradientUnits="userSpaceOnUse" x1="0" y1="574.00" x2="0" y2="593.00"><stop offset="0.0000" stop-color="#000" stop-opacity="0.020"/><stop offset="0.1053" stop-color="#000" stop-opacity="0.112"/><stop offset="0.2105" stop-color="#000" stop-opacity="0.192"/><stop offset="0.3158" stop-color="#000" stop-opacity="0.128"/><stop offset="0.4211" stop-color="#000" stop-opacity="0.192"/><stop offset="0.7632" stop-color="#000" stop-opacity="0.160"/><stop offset="0.8684" stop-color="#000" stop-opacity="0.050"/><stop offset="1.0000" stop-color="#000" stop-opacity="0.000"/></linearGradient>
<rect x="152.10" y="572.00" width="14.20" height="23.00" fill="url(#sg9)" filter="url(#bh)"/>
<rect x="152.30" y="582.90" width="13.80" height="6.00" rx="2.40" fill="#000" opacity="0.95" filter="url(#b06)"/>
<linearGradient id="sg10" gradientUnits="userSpaceOnUse" x1="0" y1="574.00" x2="0" y2="593.00"><stop offset="0.0000" stop-color="#000" stop-opacity="0.020"/><stop offset="0.1053" stop-color="#000" stop-opacity="0.101"/><stop offset="0.2105" stop-color="#000" stop-opacity="0.173"/><stop offset="0.3158" stop-color="#000" stop-opacity="0.115"/><stop offset="0.4211" stop-color="#000" stop-opacity="0.173"/><stop offset="0.7632" stop-color="#000" stop-opacity="0.144"/><stop offset="0.8684" stop-color="#000" stop-opacity="0.050"/><stop offset="1.0000" stop-color="#000" stop-opacity="0.000"/></linearGradient>
<rect x="168.00" y="572.00" width="14.20" height="23.00" fill="url(#sg10)" filter="url(#bh)"/>
<rect x="168.20" y="582.90" width="13.80" height="6.00" rx="2.40" fill="#000" opacity="0.12" filter="url(#b06)"/>
<linearGradient id="sg11" gradientUnits="userSpaceOnUse" x1="0" y1="574.00" x2="0" y2="593.00"><stop offset="0.0000" stop-color="#000" stop-opacity="0.020"/><stop offset="0.1053" stop-color="#000" stop-opacity="0.073"/><stop offset="0.2105" stop-color="#000" stop-opacity="0.125"/><stop offset="0.3158" stop-color="#000" stop-opacity="0.083"/><stop offset="0.4211" stop-color="#000" stop-opacity="0.125"/><stop offset="0.7632" stop-color="#000" stop-opacity="0.104"/><stop offset="0.8684" stop-color="#000" stop-opacity="0.050"/><stop offset="1.0000" stop-color="#000" stop-opacity="0.000"/></linearGradient>
<rect x="183.90" y="572.00" width="14.20" height="23.00" fill="url(#sg11)" filter="url(#bh)"/>
<rect x="184.10" y="582.90" width="13.80" height="6.00" rx="2.40" fill="#000" opacity="0.08" filter="url(#b06)"/>
<linearGradient id="sg12" gradientUnits="userSpaceOnUse" x1="0" y1="574.00" x2="0" y2="593.00"><stop offset="0.0000" stop-color="#000" stop-opacity="0.020"/><stop offset="0.1053" stop-color="#000" stop-opacity="0.090"/><stop offset="0.2105" stop-color="#000" stop-opacity="0.154"/><stop offset="0.3158" stop-color="#000" stop-opacity="0.102"/><stop offset="0.4211" stop-color="#000" stop-opacity="0.154"/><stop offset="0.7632" stop-color="#000" stop-opacity="0.128"/><stop offset="0.8684" stop-color="#000" stop-opacity="0.050"/><stop offset="1.0000" stop-color="#000" stop-opacity="0.000"/></linearGradient>
<rect x="199.80" y="572.00" width="14.20" height="23.00" fill="url(#sg12)" filter="url(#bh)"/>
<rect x="200.00" y="582.90" width="13.80" height="6.00" rx="2.40" fill="#000" opacity="0.10" filter="url(#b06)"/>
<linearGradient id="sg13" gradientUnits="userSpaceOnUse" x1="0" y1="574.00" x2="0" y2="593.00"><stop offset="0.0000" stop-color="#000" stop-opacity="0.020"/><stop offset="0.1053" stop-color="#000" stop-opacity="0.101"/><stop offset="0.2105" stop-color="#000" stop-opacity="0.173"/><stop offset="0.3158" stop-color="#000" stop-opacity="0.115"/><stop offset="0.4211" stop-color="#000" stop-opacity="0.173"/><stop offset="0.7632" stop-color="#000" stop-opacity="0.144"/><stop offset="0.8684" stop-color="#000" stop-opacity="0.050"/><stop offset="1.0000" stop-color="#000" stop-opacity="0.000"/></linearGradient>
<rect x="215.70" y="572.00" width="14.20" height="23.00" fill="url(#sg13)" filter="url(#bh)"/>
<rect x="215.90" y="582.90" width="13.80" height="6.00" rx="2.40" fill="#000" opacity="0.08" filter="url(#b06)"/>
<linearGradient id="sg14" gradientUnits="userSpaceOnUse" x1="0" y1="574.00" x2="0" y2="593.00"><stop offset="0.0000" stop-color="#000" stop-opacity="0.020"/><stop offset="0.1053" stop-color="#000" stop-opacity="0.123"/><stop offset="0.2105" stop-color="#000" stop-opacity="0.211"/><stop offset="0.3158" stop-color="#000" stop-opacity="0.141"/><stop offset="0.4211" stop-color="#000" stop-opacity="0.211"/><stop offset="0.7632" stop-color="#000" stop-opacity="0.176"/><stop offset="0.8684" stop-color="#000" stop-opacity="0.050"/><stop offset="1.0000" stop-color="#000" stop-opacity="0.000"/></linearGradient>
<rect x="247.10" y="572.00" width="14.20" height="23.00" fill="url(#sg14)" filter="url(#bh)"/>
<rect x="247.30" y="582.90" width="13.80" height="6.00" rx="2.40" fill="#000" opacity="1.00" filter="url(#b06)"/>
<linearGradient id="sg15" gradientUnits="userSpaceOnUse" x1="0" y1="574.00" x2="0" y2="593.00"><stop offset="0.0000" stop-color="#000" stop-opacity="0.020"/><stop offset="0.1053" stop-color="#000" stop-opacity="0.112"/><stop offset="0.2105" stop-color="#000" stop-opacity="0.192"/><stop offset="0.3158" stop-color="#000" stop-opacity="0.128"/><stop offset="0.4211" stop-color="#000" stop-opacity="0.192"/><stop offset="0.7632" stop-color="#000" stop-opacity="0.160"/><stop offset="0.8684" stop-color="#000" stop-opacity="0.050"/><stop offset="1.0000" stop-color="#000" stop-opacity="0.000"/></linearGradient>
<rect x="263.10" y="572.00" width="14.20" height="23.00" fill="url(#sg15)" filter="url(#bh)"/>
<rect x="263.30" y="582.90" width="13.80" height="6.00" rx="2.40" fill="#000" opacity="0.36" filter="url(#b06)"/>
<linearGradient id="sg16" gradientUnits="userSpaceOnUse" x1="0" y1="574.00" x2="0" y2="593.00"><stop offset="0.0000" stop-color="#000" stop-opacity="0.020"/><stop offset="0.1053" stop-color="#000" stop-opacity="0.090"/><stop offset="0.2105" stop-color="#000" stop-opacity="0.154"/><stop offset="0.3158" stop-color="#000" stop-opacity="0.102"/><stop offset="0.4211" stop-color="#000" stop-opacity="0.154"/><stop offset="0.7632" stop-color="#000" stop-opacity="0.128"/><stop offset="0.8684" stop-color="#000" stop-opacity="0.050"/><stop offset="1.0000" stop-color="#000" stop-opacity="0.000"/></linearGradient>
<rect x="279.10" y="572.00" width="14.20" height="23.00" fill="url(#sg16)" filter="url(#bh)"/>
<rect x="279.30" y="582.90" width="13.80" height="6.00" rx="2.40" fill="#000" opacity="0.12" filter="url(#b06)"/>
<linearGradient id="sg17" gradientUnits="userSpaceOnUse" x1="0" y1="574.00" x2="0" y2="593.00"><stop offset="0.0000" stop-color="#000" stop-opacity="0.020"/><stop offset="0.1053" stop-color="#000" stop-opacity="0.090"/><stop offset="0.2105" stop-color="#000" stop-opacity="0.154"/><stop offset="0.3158" stop-color="#000" stop-opacity="0.102"/><stop offset="0.4211" stop-color="#000" stop-opacity="0.154"/><stop offset="0.7632" stop-color="#000" stop-opacity="0.128"/><stop offset="0.8684" stop-color="#000" stop-opacity="0.050"/><stop offset="1.0000" stop-color="#000" stop-opacity="0.000"/></linearGradient>
<rect x="295.10" y="572.00" width="14.20" height="23.00" fill="url(#sg17)" filter="url(#bh)"/>
<rect x="295.30" y="582.90" width="13.80" height="6.00" rx="2.40" fill="#000" opacity="0.10" filter="url(#b06)"/>
<linearGradient id="sg18" gradientUnits="userSpaceOnUse" x1="0" y1="574.00" x2="0" y2="593.00"><stop offset="0.0000" stop-color="#000" stop-opacity="0.020"/><stop offset="0.1053" stop-color="#000" stop-opacity="0.112"/><stop offset="0.2105" stop-color="#000" stop-opacity="0.192"/><stop offset="0.3158" stop-color="#000" stop-opacity="0.128"/><stop offset="0.4211" stop-color="#000" stop-opacity="0.192"/><stop offset="0.7632" stop-color="#000" stop-opacity="0.160"/><stop offset="0.8684" stop-color="#000" stop-opacity="0.050"/><stop offset="1.0000" stop-color="#000" stop-opacity="0.000"/></linearGradient>
<rect x="311.10" y="572.00" width="14.20" height="23.00" fill="url(#sg18)" filter="url(#bh)"/>
<rect x="311.30" y="582.90" width="13.80" height="6.00" rx="2.40" fill="#000" opacity="0.12" filter="url(#b06)"/>
</g>
<g clip-path="url(#cG1)">
<linearGradient id="sg19" gradientUnits="userSpaceOnUse" x1="0" y1="597.00" x2="0" y2="639.50"><stop offset="0.0000" stop-color="#000" stop-opacity="0.100"/><stop offset="0.0941" stop-color="#000" stop-opacity="0.170"/><stop offset="0.1647" stop-color="#000" stop-opacity="0.280"/><stop offset="0.2353" stop-color="#000" stop-opacity="0.420"/><stop offset="0.2824" stop-color="#000" stop-opacity="0.550"/><stop offset="0.6118" stop-color="#000" stop-opacity="0.500"/><stop offset="0.6588" stop-color="#000" stop-opacity="0.300"/><stop offset="0.7765" stop-color="#000" stop-opacity="0.220"/><stop offset="1.0000" stop-color="#000" stop-opacity="0.160"/></linearGradient>
<rect x="59.60" y="595.00" width="14.30" height="46.50" fill="url(#sg19)" filter="url(#bh)"/>
<rect x="59.80" y="609.20" width="13.90" height="13.80" rx="2.50" fill="#000" opacity="1.00" filter="url(#b1)"/>
<linearGradient id="sg20" gradientUnits="userSpaceOnUse" x1="0" y1="597.00" x2="0" y2="639.50"><stop offset="0.0000" stop-color="#000" stop-opacity="0.100"/><stop offset="0.0941" stop-color="#000" stop-opacity="0.170"/><stop offset="0.1647" stop-color="#000" stop-opacity="0.280"/><stop offset="0.2353" stop-color="#000" stop-opacity="0.420"/><stop offset="0.2824" stop-color="#000" stop-opacity="0.550"/><stop offset="0.6118" stop-color="#000" stop-opacity="0.500"/><stop offset="0.6588" stop-color="#000" stop-opacity="0.300"/><stop offset="0.7765" stop-color="#000" stop-opacity="0.220"/><stop offset="1.0000" stop-color="#000" stop-opacity="0.160"/></linearGradient>
<rect x="75.00" y="595.00" width="13.60" height="46.50" fill="url(#sg20)" filter="url(#bh)"/>
<rect x="75.20" y="609.20" width="13.20" height="13.80" rx="2.50" fill="#000" opacity="1.00" filter="url(#b1)"/>
<linearGradient id="sg21" gradientUnits="userSpaceOnUse" x1="0" y1="597.00" x2="0" y2="639.50"><stop offset="0.0000" stop-color="#000" stop-opacity="0.100"/><stop offset="0.0941" stop-color="#000" stop-opacity="0.170"/><stop offset="0.1647" stop-color="#000" stop-opacity="0.280"/><stop offset="0.2353" stop-color="#000" stop-opacity="0.420"/><stop offset="0.2824" stop-color="#000" stop-opacity="0.550"/><stop offset="0.6118" stop-color="#000" stop-opacity="0.500"/><stop offset="0.6588" stop-color="#000" stop-opacity="0.300"/><stop offset="0.7765" stop-color="#000" stop-opacity="0.220"/><stop offset="1.0000" stop-color="#000" stop-opacity="0.160"/></linearGradient>
<rect x="89.70" y="595.00" width="13.60" height="46.50" fill="url(#sg21)" filter="url(#bh)"/>
<rect x="89.90" y="609.20" width="13.20" height="13.80" rx="2.50" fill="#000" opacity="1.00" filter="url(#b1)"/>
<linearGradient id="sg22" gradientUnits="userSpaceOnUse" x1="0" y1="597.00" x2="0" y2="639.50"><stop offset="0.0000" stop-color="#000" stop-opacity="0.100"/><stop offset="0.0941" stop-color="#000" stop-opacity="0.170"/><stop offset="0.1647" stop-color="#000" stop-opacity="0.280"/><stop offset="0.2353" stop-color="#000" stop-opacity="0.420"/><stop offset="0.2824" stop-color="#000" stop-opacity="0.550"/><stop offset="0.6118" stop-color="#000" stop-opacity="0.500"/><stop offset="0.6588" stop-color="#000" stop-opacity="0.300"/><stop offset="0.7765" stop-color="#000" stop-opacity="0.220"/><stop offset="1.0000" stop-color="#000" stop-opacity="0.160"/></linearGradient>
<rect x="104.90" y="595.00" width="13.80" height="46.50" fill="url(#sg22)" filter="url(#bh)"/>
<rect x="105.10" y="609.20" width="13.40" height="13.80" rx="2.50" fill="#000" opacity="1.00" filter="url(#b1)"/>
<linearGradient id="sg23" gradientUnits="userSpaceOnUse" x1="0" y1="597.00" x2="0" y2="639.50"><stop offset="0.0000" stop-color="#000" stop-opacity="0.100"/><stop offset="0.0941" stop-color="#000" stop-opacity="0.170"/><stop offset="0.1647" stop-color="#000" stop-opacity="0.280"/><stop offset="0.2353" stop-color="#000" stop-opacity="0.420"/><stop offset="0.2824" stop-color="#000" stop-opacity="0.550"/><stop offset="0.6118" stop-color="#000" stop-opacity="0.500"/><stop offset="0.6588" stop-color="#000" stop-opacity="0.300"/><stop offset="0.7765" stop-color="#000" stop-opacity="0.220"/><stop offset="1.0000" stop-color="#000" stop-opacity="0.160"/></linearGradient>
<rect x="120.20" y="595.00" width="14.90" height="46.50" fill="url(#sg23)" filter="url(#bh)"/>
<rect x="120.40" y="609.20" width="14.50" height="13.80" rx="2.50" fill="#000" opacity="1.00" filter="url(#b1)"/>
<linearGradient id="sg24" gradientUnits="userSpaceOnUse" x1="0" y1="597.00" x2="0" y2="639.50"><stop offset="0.0000" stop-color="#000" stop-opacity="0.000"/><stop offset="0.1647" stop-color="#000" stop-opacity="0.030"/><stop offset="0.2353" stop-color="#000" stop-opacity="0.130"/><stop offset="0.3059" stop-color="#000" stop-opacity="0.220"/><stop offset="0.3882" stop-color="#000" stop-opacity="0.220"/><stop offset="0.4471" stop-color="#000" stop-opacity="0.100"/><stop offset="0.5412" stop-color="#000" stop-opacity="0.040"/><stop offset="0.7765" stop-color="#000" stop-opacity="0.020"/><stop offset="1.0000" stop-color="#000" stop-opacity="0.010"/></linearGradient>
<rect x="247.20" y="595.00" width="14.00" height="46.50" fill="url(#sg24)" filter="url(#bh)"/>
<linearGradient id="sg25" gradientUnits="userSpaceOnUse" x1="0" y1="597.00" x2="0" y2="639.50"><stop offset="0.0000" stop-color="#000" stop-opacity="0.000"/><stop offset="0.1647" stop-color="#000" stop-opacity="0.030"/><stop offset="0.2353" stop-color="#000" stop-opacity="0.130"/><stop offset="0.3059" stop-color="#000" stop-opacity="0.220"/><stop offset="0.3882" stop-color="#000" stop-opacity="0.220"/><stop offset="0.4471" stop-color="#000" stop-opacity="0.100"/><stop offset="0.5412" stop-color="#000" stop-opacity="0.040"/><stop offset="0.7765" stop-color="#000" stop-opacity="0.020"/><stop offset="1.0000" stop-color="#000" stop-opacity="0.010"/></linearGradient>
<rect x="263.20" y="595.00" width="14.00" height="46.50" fill="url(#sg25)" filter="url(#bh)"/>
<linearGradient id="sg26" gradientUnits="userSpaceOnUse" x1="0" y1="597.00" x2="0" y2="639.50"><stop offset="0.0000" stop-color="#000" stop-opacity="0.000"/><stop offset="0.1647" stop-color="#000" stop-opacity="0.030"/><stop offset="0.2353" stop-color="#000" stop-opacity="0.130"/><stop offset="0.3059" stop-color="#000" stop-opacity="0.220"/><stop offset="0.3882" stop-color="#000" stop-opacity="0.220"/><stop offset="0.4471" stop-color="#000" stop-opacity="0.100"/><stop offset="0.5412" stop-color="#000" stop-opacity="0.040"/><stop offset="0.7765" stop-color="#000" stop-opacity="0.020"/><stop offset="1.0000" stop-color="#000" stop-opacity="0.010"/></linearGradient>
<rect x="279.20" y="595.00" width="14.00" height="46.50" fill="url(#sg26)" filter="url(#bh)"/>
<linearGradient id="sg27" gradientUnits="userSpaceOnUse" x1="0" y1="597.00" x2="0" y2="639.50"><stop offset="0.0000" stop-color="#000" stop-opacity="0.000"/><stop offset="0.1647" stop-color="#000" stop-opacity="0.030"/><stop offset="0.2353" stop-color="#000" stop-opacity="0.130"/><stop offset="0.3059" stop-color="#000" stop-opacity="0.220"/><stop offset="0.3882" stop-color="#000" stop-opacity="0.220"/><stop offset="0.4471" stop-color="#000" stop-opacity="0.100"/><stop offset="0.5412" stop-color="#000" stop-opacity="0.040"/><stop offset="0.7765" stop-color="#000" stop-opacity="0.020"/><stop offset="1.0000" stop-color="#000" stop-opacity="0.010"/></linearGradient>
<rect x="295.20" y="595.00" width="14.00" height="46.50" fill="url(#sg27)" filter="url(#bh)"/>
<linearGradient id="sg28" gradientUnits="userSpaceOnUse" x1="0" y1="597.00" x2="0" y2="639.50"><stop offset="0.0000" stop-color="#000" stop-opacity="0.000"/><stop offset="0.1647" stop-color="#000" stop-opacity="0.030"/><stop offset="0.2353" stop-color="#000" stop-opacity="0.130"/><stop offset="0.3059" stop-color="#000" stop-opacity="0.220"/><stop offset="0.3882" stop-color="#000" stop-opacity="0.220"/><stop offset="0.4471" stop-color="#000" stop-opacity="0.100"/><stop offset="0.5412" stop-color="#000" stop-opacity="0.040"/><stop offset="0.7765" stop-color="#000" stop-opacity="0.020"/><stop offset="1.0000" stop-color="#000" stop-opacity="0.010"/></linearGradient>
<rect x="311.20" y="595.00" width="14.00" height="46.50" fill="url(#sg28)" filter="url(#bh)"/>
</g>
<g clip-path="url(#cG2)">
<rect x="57.60" y="649.40" width="14.20" height="2.80" rx="1.20" fill="#111" opacity="0.90" filter="url(#b06)"/>
<rect x="73.40" y="650.20" width="14.20" height="2.80" rx="1.20" fill="#111" opacity="0.90" filter="url(#b06)"/>
<rect x="89.20" y="650.20" width="14.20" height="2.80" rx="1.20" fill="#111" opacity="0.85" filter="url(#b06)"/>
<rect x="105.00" y="650.20" width="14.20" height="2.80" rx="1.20" fill="#111" opacity="0.90" filter="url(#b06)"/>
<rect x="120.80" y="650.20" width="14.20" height="2.80" rx="1.20" fill="#111" opacity="0.75" filter="url(#b06)"/>
<rect x="152.10" y="651.00" width="14.20" height="2.80" rx="1.20" fill="#111" opacity="0.80" filter="url(#b06)"/>
<rect x="168.00" y="650.45" width="14.20" height="2.80" rx="1.20" fill="#111" opacity="0.90" filter="url(#b06)"/>
<rect x="183.90" y="649.90" width="14.20" height="2.80" rx="1.20" fill="#111" opacity="0.85" filter="url(#b06)"/>
<rect x="199.80" y="649.35" width="14.20" height="2.80" rx="1.20" fill="#111" opacity="0.85" filter="url(#b06)"/>
<rect x="215.70" y="648.80" width="14.20" height="2.80" rx="1.20" fill="#111" opacity="0.85" filter="url(#b06)"/>
<rect x="247.10" y="649.40" width="14.20" height="2.80" rx="1.20" fill="#111" opacity="0.85" filter="url(#b06)"/>
<rect x="263.10" y="649.40" width="14.20" height="2.80" rx="1.20" fill="#111" opacity="0.80" filter="url(#b06)"/>
<rect x="279.10" y="649.40" width="14.20" height="2.80" rx="1.20" fill="#111" opacity="0.80" filter="url(#b06)"/>
<rect x="295.10" y="649.40" width="14.20" height="2.80" rx="1.20" fill="#111" opacity="0.70" filter="url(#b06)"/>
<rect x="311.10" y="648.80" width="14.20" height="3.40" rx="1.20" fill="#111" opacity="1.00" filter="url(#b06)"/>
<path d="M100 643 L110 643 L108 648 L102 648 Z" fill="#fff" opacity="0.7" filter="url(#b06)"/>
</g>
<text x="43.70" y="587.60" font-size="7.90" text-anchor="end" fill="#1a1a1a" stroke="#1a1a1a" stroke-width="0.22">α-cIAP1</text>
<text x="43.70" y="618.40" font-size="7.90" text-anchor="end" fill="#1a1a1a" stroke="#1a1a1a" stroke-width="0.22">α-MDR1</text>
<text x="44.00" y="652.40" font-size="7.90" text-anchor="end" fill="#1a1a1a" stroke="#1a1a1a" stroke-width="0.22">α-Actin</text>
<line x1="330.00" y1="576.60" x2="335.80" y2="576.60" stroke="#151515" stroke-width="1.00" />
<text x="339.70" y="579.50" font-size="7.90" text-anchor="start" fill="#1a1a1a" stroke="#1a1a1a" stroke-width="0.22">75</text>
<line x1="330.00" y1="615.90" x2="335.80" y2="615.90" stroke="#151515" stroke-width="1.00" />
<text x="339.70" y="618.80" font-size="7.90" text-anchor="start" fill="#1a1a1a" stroke="#1a1a1a" stroke-width="0.22">150</text>
<line x1="330.00" y1="654.70" x2="335.80" y2="654.70" stroke="#151515" stroke-width="1.00" />
<text x="339.70" y="657.60" font-size="7.90" text-anchor="start" fill="#1a1a1a" stroke="#1a1a1a" stroke-width="0.22">37</text>
<line x1="333.50" y1="588.20" x2="345.00" y2="588.20" stroke="#151515" stroke-width="1.00" />
<path d="M331.0 588.2 L336.2 586.0 L335.2 588.2 L336.2 590.4 Z" fill="#151515"/>
<rect x="0.00" y="0.00" width="520.00" height="1.00" fill="#000" stroke="none" stroke-width="1.00" />
<rect x="0.00" y="0.00" width="1.00" height="668.00" fill="#000" stroke="none" stroke-width="1.00" />
<rect x="519.00" y="0.00" width="1.00" height="668.00" fill="#000" stroke="none" stroke-width="1.00" />
<rect x="0.00" y="666.80" width="520.00" height="1.20" fill="#000" stroke="none" stroke-width="1.00" />
</svg></body></html>
